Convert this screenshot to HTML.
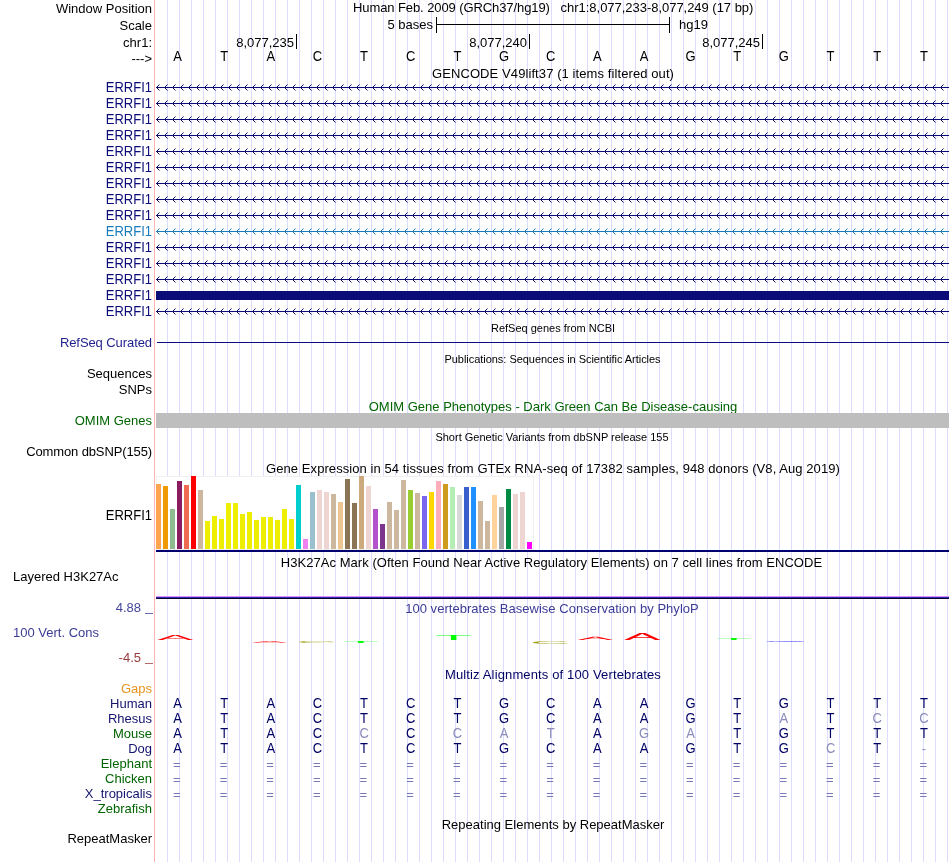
<!DOCTYPE html>
<html><head><meta charset="utf-8"><title>UCSC Genome Browser</title>
<style>
html,body{margin:0;padding:0;background:#fff;}
body{width:950px;height:862px;position:relative;overflow:hidden;font-family:"Liberation Sans",sans-serif;font-size:13px;color:#000;}
.t{position:absolute;white-space:pre;line-height:15px;height:15px;}
.r{text-align:right;left:0;width:152px;}
.c{text-align:center;left:156px;width:794px;}
.s{font-size:11px;}
.b{position:absolute;}
.l{position:absolute;width:16px;margin-left:-8px;text-align:center;line-height:15px;height:15px;}
.u{transform:scaleY(1.07);transform-origin:50% 12px;}
svg{position:absolute;left:0;top:0;}
#w{position:absolute;left:0;top:0;width:950px;height:862px;will-change:transform;}
</style></head><body><div id="w">
<svg width="950" height="862" viewBox="0 0 950 862" shape-rendering="crispEdges"><path d="M167.5 0V862M179.5 0V862M191.5 0V862M203.5 0V862M215.5 0V862M227.5 0V862M239.5 0V862M251.5 0V862M263.5 0V862M275.5 0V862M287.5 0V862M299.5 0V862M311.5 0V862M323.5 0V862M335.5 0V862M347.5 0V862M359.5 0V862M371.5 0V862M383.5 0V862M395.5 0V862M407.5 0V862M419.5 0V862M431.5 0V862M443.5 0V862M455.5 0V862M467.5 0V862M479.5 0V862M491.5 0V862M503.5 0V862M515.5 0V862M527.5 0V862M539.5 0V862M551.5 0V862M563.5 0V862M575.5 0V862M587.5 0V862M599.5 0V862M611.5 0V862M623.5 0V862M635.5 0V862M647.5 0V862M659.5 0V862M671.5 0V862M683.5 0V862M695.5 0V862M707.5 0V862M719.5 0V862M731.5 0V862M743.5 0V862M755.5 0V862M767.5 0V862M779.5 0V862M791.5 0V862M803.5 0V862M815.5 0V862M827.5 0V862M839.5 0V862M851.5 0V862M863.5 0V862M875.5 0V862M887.5 0V862M899.5 0V862M911.5 0V862M923.5 0V862M935.5 0V862M947.5 0V862" stroke="#dcdcff" stroke-width="1" fill="none"/><path d="M154.5 0V862" stroke="#ffb4b4" stroke-width="1" fill="none"/></svg>
<div class="t r" style="top:1px;">Window Position</div>
<div class="t r" style="top:18px;">Scale</div>
<div class="t r" style="top:35px;">chr1:</div>
<div class="t r" style="top:51px;">---&gt;</div>
<div class="t " style="top:0px;left:353px;letter-spacing:-0.09px;">Human Feb. 2009 (GRCh37/hg19)</div>
<div class="t " style="top:0px;left:560.6px;letter-spacing:-0.03px;">chr1:8,077,233-8,077,249 (17 bp)</div>
<div class="b" style="left:436px;top:17px;width:1px;height:16px;background:#000"></div>
<div class="b" style="left:669px;top:17px;width:1px;height:16px;background:#000"></div>
<div class="b" style="left:436px;top:24px;width:234px;height:1px;background:#000"></div>
<div class="t " style="top:17px;right:517px;">5 bases</div>
<div class="t " style="top:17px;left:679px;">hg19</div>
<div class="b" style="left:296px;top:34px;width:1px;height:15px;background:#000"></div>
<div class="t " style="top:35px;right:656px;">8,077,235</div>
<div class="b" style="left:529px;top:34px;width:1px;height:15px;background:#000"></div>
<div class="t " style="top:35px;right:423px;">8,077,240</div>
<div class="b" style="left:762px;top:34px;width:1px;height:15px;background:#000"></div>
<div class="t " style="top:35px;right:190px;">8,077,245</div>
<div class="l u" style="left:177.5px;top:49px">A</div>
<div class="l u" style="left:224.2px;top:49px">T</div>
<div class="l u" style="left:270.8px;top:49px">A</div>
<div class="l u" style="left:317.5px;top:49px">C</div>
<div class="l u" style="left:364.1px;top:49px">T</div>
<div class="l u" style="left:410.8px;top:49px">C</div>
<div class="l u" style="left:457.4px;top:49px">T</div>
<div class="l u" style="left:504.1px;top:49px">G</div>
<div class="l u" style="left:550.7px;top:49px">C</div>
<div class="l u" style="left:597.3px;top:49px">A</div>
<div class="l u" style="left:644.0px;top:49px">A</div>
<div class="l u" style="left:690.6px;top:49px">G</div>
<div class="l u" style="left:737.3px;top:49px">T</div>
<div class="l u" style="left:783.9px;top:49px">G</div>
<div class="l u" style="left:830.6px;top:49px">T</div>
<div class="l u" style="left:877.2px;top:49px">T</div>
<div class="l u" style="left:923.9px;top:49px">T</div>
<div class="t c" style="top:66px;letter-spacing:0.09px;">GENCODE V49lift37 (1 items filtered out)</div>
<div class="t r u" style="top:80px;color:#0c0c78;">ERRFI1</div>
<div class="t r u" style="top:96px;color:#0c0c78;">ERRFI1</div>
<div class="t r u" style="top:112px;color:#0c0c78;">ERRFI1</div>
<div class="t r u" style="top:128px;color:#0c0c78;">ERRFI1</div>
<div class="t r u" style="top:144px;color:#0c0c78;">ERRFI1</div>
<div class="t r u" style="top:160px;color:#0c0c78;">ERRFI1</div>
<div class="t r u" style="top:176px;color:#0c0c78;">ERRFI1</div>
<div class="t r u" style="top:192px;color:#0c0c78;">ERRFI1</div>
<div class="t r u" style="top:208px;color:#0c0c78;">ERRFI1</div>
<div class="t r u" style="top:224px;color:#187cbc;">ERRFI1</div>
<div class="t r u" style="top:240px;color:#0c0c78;">ERRFI1</div>
<div class="t r u" style="top:256px;color:#0c0c78;">ERRFI1</div>
<div class="t r u" style="top:272px;color:#0c0c78;">ERRFI1</div>
<div class="t r u" style="top:288px;color:#0c0c78;">ERRFI1</div>
<div class="b" style="left:156px;top:291px;width:793px;height:9px;background:#0c0c78"></div>
<div class="t r u" style="top:304px;color:#0c0c78;">ERRFI1</div>
<svg width="950" height="862" viewBox="0 0 950 862"><path d="M156 87.5H949M159.5 84.5L156.5 87.5L159.5 90.5M167.5 84.5L164.5 87.5L167.5 90.5M175.5 84.5L172.5 87.5L175.5 90.5M183.5 84.5L180.5 87.5L183.5 90.5M191.5 84.5L188.5 87.5L191.5 90.5M199.5 84.5L196.5 87.5L199.5 90.5M207.5 84.5L204.5 87.5L207.5 90.5M215.5 84.5L212.5 87.5L215.5 90.5M223.5 84.5L220.5 87.5L223.5 90.5M231.5 84.5L228.5 87.5L231.5 90.5M239.5 84.5L236.5 87.5L239.5 90.5M247.5 84.5L244.5 87.5L247.5 90.5M255.5 84.5L252.5 87.5L255.5 90.5M263.5 84.5L260.5 87.5L263.5 90.5M271.5 84.5L268.5 87.5L271.5 90.5M279.5 84.5L276.5 87.5L279.5 90.5M287.5 84.5L284.5 87.5L287.5 90.5M295.5 84.5L292.5 87.5L295.5 90.5M303.5 84.5L300.5 87.5L303.5 90.5M311.5 84.5L308.5 87.5L311.5 90.5M319.5 84.5L316.5 87.5L319.5 90.5M327.5 84.5L324.5 87.5L327.5 90.5M335.5 84.5L332.5 87.5L335.5 90.5M343.5 84.5L340.5 87.5L343.5 90.5M351.5 84.5L348.5 87.5L351.5 90.5M359.5 84.5L356.5 87.5L359.5 90.5M367.5 84.5L364.5 87.5L367.5 90.5M375.5 84.5L372.5 87.5L375.5 90.5M383.5 84.5L380.5 87.5L383.5 90.5M391.5 84.5L388.5 87.5L391.5 90.5M399.5 84.5L396.5 87.5L399.5 90.5M407.5 84.5L404.5 87.5L407.5 90.5M415.5 84.5L412.5 87.5L415.5 90.5M423.5 84.5L420.5 87.5L423.5 90.5M431.5 84.5L428.5 87.5L431.5 90.5M439.5 84.5L436.5 87.5L439.5 90.5M447.5 84.5L444.5 87.5L447.5 90.5M455.5 84.5L452.5 87.5L455.5 90.5M463.5 84.5L460.5 87.5L463.5 90.5M471.5 84.5L468.5 87.5L471.5 90.5M479.5 84.5L476.5 87.5L479.5 90.5M487.5 84.5L484.5 87.5L487.5 90.5M495.5 84.5L492.5 87.5L495.5 90.5M503.5 84.5L500.5 87.5L503.5 90.5M511.5 84.5L508.5 87.5L511.5 90.5M519.5 84.5L516.5 87.5L519.5 90.5M527.5 84.5L524.5 87.5L527.5 90.5M535.5 84.5L532.5 87.5L535.5 90.5M543.5 84.5L540.5 87.5L543.5 90.5M551.5 84.5L548.5 87.5L551.5 90.5M559.5 84.5L556.5 87.5L559.5 90.5M567.5 84.5L564.5 87.5L567.5 90.5M575.5 84.5L572.5 87.5L575.5 90.5M583.5 84.5L580.5 87.5L583.5 90.5M591.5 84.5L588.5 87.5L591.5 90.5M599.5 84.5L596.5 87.5L599.5 90.5M607.5 84.5L604.5 87.5L607.5 90.5M615.5 84.5L612.5 87.5L615.5 90.5M623.5 84.5L620.5 87.5L623.5 90.5M631.5 84.5L628.5 87.5L631.5 90.5M639.5 84.5L636.5 87.5L639.5 90.5M647.5 84.5L644.5 87.5L647.5 90.5M655.5 84.5L652.5 87.5L655.5 90.5M663.5 84.5L660.5 87.5L663.5 90.5M671.5 84.5L668.5 87.5L671.5 90.5M679.5 84.5L676.5 87.5L679.5 90.5M687.5 84.5L684.5 87.5L687.5 90.5M695.5 84.5L692.5 87.5L695.5 90.5M703.5 84.5L700.5 87.5L703.5 90.5M711.5 84.5L708.5 87.5L711.5 90.5M719.5 84.5L716.5 87.5L719.5 90.5M727.5 84.5L724.5 87.5L727.5 90.5M735.5 84.5L732.5 87.5L735.5 90.5M743.5 84.5L740.5 87.5L743.5 90.5M751.5 84.5L748.5 87.5L751.5 90.5M759.5 84.5L756.5 87.5L759.5 90.5M767.5 84.5L764.5 87.5L767.5 90.5M775.5 84.5L772.5 87.5L775.5 90.5M783.5 84.5L780.5 87.5L783.5 90.5M791.5 84.5L788.5 87.5L791.5 90.5M799.5 84.5L796.5 87.5L799.5 90.5M807.5 84.5L804.5 87.5L807.5 90.5M815.5 84.5L812.5 87.5L815.5 90.5M823.5 84.5L820.5 87.5L823.5 90.5M831.5 84.5L828.5 87.5L831.5 90.5M839.5 84.5L836.5 87.5L839.5 90.5M847.5 84.5L844.5 87.5L847.5 90.5M855.5 84.5L852.5 87.5L855.5 90.5M863.5 84.5L860.5 87.5L863.5 90.5M871.5 84.5L868.5 87.5L871.5 90.5M879.5 84.5L876.5 87.5L879.5 90.5M887.5 84.5L884.5 87.5L887.5 90.5M895.5 84.5L892.5 87.5L895.5 90.5M903.5 84.5L900.5 87.5L903.5 90.5M911.5 84.5L908.5 87.5L911.5 90.5M919.5 84.5L916.5 87.5L919.5 90.5M927.5 84.5L924.5 87.5L927.5 90.5M935.5 84.5L932.5 87.5L935.5 90.5M943.5 84.5L940.5 87.5L943.5 90.5" stroke="#0c0c78" stroke-width="1" fill="none"/><path d="M156 103.5H949M159.5 100.5L156.5 103.5L159.5 106.5M167.5 100.5L164.5 103.5L167.5 106.5M175.5 100.5L172.5 103.5L175.5 106.5M183.5 100.5L180.5 103.5L183.5 106.5M191.5 100.5L188.5 103.5L191.5 106.5M199.5 100.5L196.5 103.5L199.5 106.5M207.5 100.5L204.5 103.5L207.5 106.5M215.5 100.5L212.5 103.5L215.5 106.5M223.5 100.5L220.5 103.5L223.5 106.5M231.5 100.5L228.5 103.5L231.5 106.5M239.5 100.5L236.5 103.5L239.5 106.5M247.5 100.5L244.5 103.5L247.5 106.5M255.5 100.5L252.5 103.5L255.5 106.5M263.5 100.5L260.5 103.5L263.5 106.5M271.5 100.5L268.5 103.5L271.5 106.5M279.5 100.5L276.5 103.5L279.5 106.5M287.5 100.5L284.5 103.5L287.5 106.5M295.5 100.5L292.5 103.5L295.5 106.5M303.5 100.5L300.5 103.5L303.5 106.5M311.5 100.5L308.5 103.5L311.5 106.5M319.5 100.5L316.5 103.5L319.5 106.5M327.5 100.5L324.5 103.5L327.5 106.5M335.5 100.5L332.5 103.5L335.5 106.5M343.5 100.5L340.5 103.5L343.5 106.5M351.5 100.5L348.5 103.5L351.5 106.5M359.5 100.5L356.5 103.5L359.5 106.5M367.5 100.5L364.5 103.5L367.5 106.5M375.5 100.5L372.5 103.5L375.5 106.5M383.5 100.5L380.5 103.5L383.5 106.5M391.5 100.5L388.5 103.5L391.5 106.5M399.5 100.5L396.5 103.5L399.5 106.5M407.5 100.5L404.5 103.5L407.5 106.5M415.5 100.5L412.5 103.5L415.5 106.5M423.5 100.5L420.5 103.5L423.5 106.5M431.5 100.5L428.5 103.5L431.5 106.5M439.5 100.5L436.5 103.5L439.5 106.5M447.5 100.5L444.5 103.5L447.5 106.5M455.5 100.5L452.5 103.5L455.5 106.5M463.5 100.5L460.5 103.5L463.5 106.5M471.5 100.5L468.5 103.5L471.5 106.5M479.5 100.5L476.5 103.5L479.5 106.5M487.5 100.5L484.5 103.5L487.5 106.5M495.5 100.5L492.5 103.5L495.5 106.5M503.5 100.5L500.5 103.5L503.5 106.5M511.5 100.5L508.5 103.5L511.5 106.5M519.5 100.5L516.5 103.5L519.5 106.5M527.5 100.5L524.5 103.5L527.5 106.5M535.5 100.5L532.5 103.5L535.5 106.5M543.5 100.5L540.5 103.5L543.5 106.5M551.5 100.5L548.5 103.5L551.5 106.5M559.5 100.5L556.5 103.5L559.5 106.5M567.5 100.5L564.5 103.5L567.5 106.5M575.5 100.5L572.5 103.5L575.5 106.5M583.5 100.5L580.5 103.5L583.5 106.5M591.5 100.5L588.5 103.5L591.5 106.5M599.5 100.5L596.5 103.5L599.5 106.5M607.5 100.5L604.5 103.5L607.5 106.5M615.5 100.5L612.5 103.5L615.5 106.5M623.5 100.5L620.5 103.5L623.5 106.5M631.5 100.5L628.5 103.5L631.5 106.5M639.5 100.5L636.5 103.5L639.5 106.5M647.5 100.5L644.5 103.5L647.5 106.5M655.5 100.5L652.5 103.5L655.5 106.5M663.5 100.5L660.5 103.5L663.5 106.5M671.5 100.5L668.5 103.5L671.5 106.5M679.5 100.5L676.5 103.5L679.5 106.5M687.5 100.5L684.5 103.5L687.5 106.5M695.5 100.5L692.5 103.5L695.5 106.5M703.5 100.5L700.5 103.5L703.5 106.5M711.5 100.5L708.5 103.5L711.5 106.5M719.5 100.5L716.5 103.5L719.5 106.5M727.5 100.5L724.5 103.5L727.5 106.5M735.5 100.5L732.5 103.5L735.5 106.5M743.5 100.5L740.5 103.5L743.5 106.5M751.5 100.5L748.5 103.5L751.5 106.5M759.5 100.5L756.5 103.5L759.5 106.5M767.5 100.5L764.5 103.5L767.5 106.5M775.5 100.5L772.5 103.5L775.5 106.5M783.5 100.5L780.5 103.5L783.5 106.5M791.5 100.5L788.5 103.5L791.5 106.5M799.5 100.5L796.5 103.5L799.5 106.5M807.5 100.5L804.5 103.5L807.5 106.5M815.5 100.5L812.5 103.5L815.5 106.5M823.5 100.5L820.5 103.5L823.5 106.5M831.5 100.5L828.5 103.5L831.5 106.5M839.5 100.5L836.5 103.5L839.5 106.5M847.5 100.5L844.5 103.5L847.5 106.5M855.5 100.5L852.5 103.5L855.5 106.5M863.5 100.5L860.5 103.5L863.5 106.5M871.5 100.5L868.5 103.5L871.5 106.5M879.5 100.5L876.5 103.5L879.5 106.5M887.5 100.5L884.5 103.5L887.5 106.5M895.5 100.5L892.5 103.5L895.5 106.5M903.5 100.5L900.5 103.5L903.5 106.5M911.5 100.5L908.5 103.5L911.5 106.5M919.5 100.5L916.5 103.5L919.5 106.5M927.5 100.5L924.5 103.5L927.5 106.5M935.5 100.5L932.5 103.5L935.5 106.5M943.5 100.5L940.5 103.5L943.5 106.5" stroke="#0c0c78" stroke-width="1" fill="none"/><path d="M156 119.5H949M159.5 116.5L156.5 119.5L159.5 122.5M167.5 116.5L164.5 119.5L167.5 122.5M175.5 116.5L172.5 119.5L175.5 122.5M183.5 116.5L180.5 119.5L183.5 122.5M191.5 116.5L188.5 119.5L191.5 122.5M199.5 116.5L196.5 119.5L199.5 122.5M207.5 116.5L204.5 119.5L207.5 122.5M215.5 116.5L212.5 119.5L215.5 122.5M223.5 116.5L220.5 119.5L223.5 122.5M231.5 116.5L228.5 119.5L231.5 122.5M239.5 116.5L236.5 119.5L239.5 122.5M247.5 116.5L244.5 119.5L247.5 122.5M255.5 116.5L252.5 119.5L255.5 122.5M263.5 116.5L260.5 119.5L263.5 122.5M271.5 116.5L268.5 119.5L271.5 122.5M279.5 116.5L276.5 119.5L279.5 122.5M287.5 116.5L284.5 119.5L287.5 122.5M295.5 116.5L292.5 119.5L295.5 122.5M303.5 116.5L300.5 119.5L303.5 122.5M311.5 116.5L308.5 119.5L311.5 122.5M319.5 116.5L316.5 119.5L319.5 122.5M327.5 116.5L324.5 119.5L327.5 122.5M335.5 116.5L332.5 119.5L335.5 122.5M343.5 116.5L340.5 119.5L343.5 122.5M351.5 116.5L348.5 119.5L351.5 122.5M359.5 116.5L356.5 119.5L359.5 122.5M367.5 116.5L364.5 119.5L367.5 122.5M375.5 116.5L372.5 119.5L375.5 122.5M383.5 116.5L380.5 119.5L383.5 122.5M391.5 116.5L388.5 119.5L391.5 122.5M399.5 116.5L396.5 119.5L399.5 122.5M407.5 116.5L404.5 119.5L407.5 122.5M415.5 116.5L412.5 119.5L415.5 122.5M423.5 116.5L420.5 119.5L423.5 122.5M431.5 116.5L428.5 119.5L431.5 122.5M439.5 116.5L436.5 119.5L439.5 122.5M447.5 116.5L444.5 119.5L447.5 122.5M455.5 116.5L452.5 119.5L455.5 122.5M463.5 116.5L460.5 119.5L463.5 122.5M471.5 116.5L468.5 119.5L471.5 122.5M479.5 116.5L476.5 119.5L479.5 122.5M487.5 116.5L484.5 119.5L487.5 122.5M495.5 116.5L492.5 119.5L495.5 122.5M503.5 116.5L500.5 119.5L503.5 122.5M511.5 116.5L508.5 119.5L511.5 122.5M519.5 116.5L516.5 119.5L519.5 122.5M527.5 116.5L524.5 119.5L527.5 122.5M535.5 116.5L532.5 119.5L535.5 122.5M543.5 116.5L540.5 119.5L543.5 122.5M551.5 116.5L548.5 119.5L551.5 122.5M559.5 116.5L556.5 119.5L559.5 122.5M567.5 116.5L564.5 119.5L567.5 122.5M575.5 116.5L572.5 119.5L575.5 122.5M583.5 116.5L580.5 119.5L583.5 122.5M591.5 116.5L588.5 119.5L591.5 122.5M599.5 116.5L596.5 119.5L599.5 122.5M607.5 116.5L604.5 119.5L607.5 122.5M615.5 116.5L612.5 119.5L615.5 122.5M623.5 116.5L620.5 119.5L623.5 122.5M631.5 116.5L628.5 119.5L631.5 122.5M639.5 116.5L636.5 119.5L639.5 122.5M647.5 116.5L644.5 119.5L647.5 122.5M655.5 116.5L652.5 119.5L655.5 122.5M663.5 116.5L660.5 119.5L663.5 122.5M671.5 116.5L668.5 119.5L671.5 122.5M679.5 116.5L676.5 119.5L679.5 122.5M687.5 116.5L684.5 119.5L687.5 122.5M695.5 116.5L692.5 119.5L695.5 122.5M703.5 116.5L700.5 119.5L703.5 122.5M711.5 116.5L708.5 119.5L711.5 122.5M719.5 116.5L716.5 119.5L719.5 122.5M727.5 116.5L724.5 119.5L727.5 122.5M735.5 116.5L732.5 119.5L735.5 122.5M743.5 116.5L740.5 119.5L743.5 122.5M751.5 116.5L748.5 119.5L751.5 122.5M759.5 116.5L756.5 119.5L759.5 122.5M767.5 116.5L764.5 119.5L767.5 122.5M775.5 116.5L772.5 119.5L775.5 122.5M783.5 116.5L780.5 119.5L783.5 122.5M791.5 116.5L788.5 119.5L791.5 122.5M799.5 116.5L796.5 119.5L799.5 122.5M807.5 116.5L804.5 119.5L807.5 122.5M815.5 116.5L812.5 119.5L815.5 122.5M823.5 116.5L820.5 119.5L823.5 122.5M831.5 116.5L828.5 119.5L831.5 122.5M839.5 116.5L836.5 119.5L839.5 122.5M847.5 116.5L844.5 119.5L847.5 122.5M855.5 116.5L852.5 119.5L855.5 122.5M863.5 116.5L860.5 119.5L863.5 122.5M871.5 116.5L868.5 119.5L871.5 122.5M879.5 116.5L876.5 119.5L879.5 122.5M887.5 116.5L884.5 119.5L887.5 122.5M895.5 116.5L892.5 119.5L895.5 122.5M903.5 116.5L900.5 119.5L903.5 122.5M911.5 116.5L908.5 119.5L911.5 122.5M919.5 116.5L916.5 119.5L919.5 122.5M927.5 116.5L924.5 119.5L927.5 122.5M935.5 116.5L932.5 119.5L935.5 122.5M943.5 116.5L940.5 119.5L943.5 122.5" stroke="#0c0c78" stroke-width="1" fill="none"/><path d="M156 135.5H949M159.5 132.5L156.5 135.5L159.5 138.5M167.5 132.5L164.5 135.5L167.5 138.5M175.5 132.5L172.5 135.5L175.5 138.5M183.5 132.5L180.5 135.5L183.5 138.5M191.5 132.5L188.5 135.5L191.5 138.5M199.5 132.5L196.5 135.5L199.5 138.5M207.5 132.5L204.5 135.5L207.5 138.5M215.5 132.5L212.5 135.5L215.5 138.5M223.5 132.5L220.5 135.5L223.5 138.5M231.5 132.5L228.5 135.5L231.5 138.5M239.5 132.5L236.5 135.5L239.5 138.5M247.5 132.5L244.5 135.5L247.5 138.5M255.5 132.5L252.5 135.5L255.5 138.5M263.5 132.5L260.5 135.5L263.5 138.5M271.5 132.5L268.5 135.5L271.5 138.5M279.5 132.5L276.5 135.5L279.5 138.5M287.5 132.5L284.5 135.5L287.5 138.5M295.5 132.5L292.5 135.5L295.5 138.5M303.5 132.5L300.5 135.5L303.5 138.5M311.5 132.5L308.5 135.5L311.5 138.5M319.5 132.5L316.5 135.5L319.5 138.5M327.5 132.5L324.5 135.5L327.5 138.5M335.5 132.5L332.5 135.5L335.5 138.5M343.5 132.5L340.5 135.5L343.5 138.5M351.5 132.5L348.5 135.5L351.5 138.5M359.5 132.5L356.5 135.5L359.5 138.5M367.5 132.5L364.5 135.5L367.5 138.5M375.5 132.5L372.5 135.5L375.5 138.5M383.5 132.5L380.5 135.5L383.5 138.5M391.5 132.5L388.5 135.5L391.5 138.5M399.5 132.5L396.5 135.5L399.5 138.5M407.5 132.5L404.5 135.5L407.5 138.5M415.5 132.5L412.5 135.5L415.5 138.5M423.5 132.5L420.5 135.5L423.5 138.5M431.5 132.5L428.5 135.5L431.5 138.5M439.5 132.5L436.5 135.5L439.5 138.5M447.5 132.5L444.5 135.5L447.5 138.5M455.5 132.5L452.5 135.5L455.5 138.5M463.5 132.5L460.5 135.5L463.5 138.5M471.5 132.5L468.5 135.5L471.5 138.5M479.5 132.5L476.5 135.5L479.5 138.5M487.5 132.5L484.5 135.5L487.5 138.5M495.5 132.5L492.5 135.5L495.5 138.5M503.5 132.5L500.5 135.5L503.5 138.5M511.5 132.5L508.5 135.5L511.5 138.5M519.5 132.5L516.5 135.5L519.5 138.5M527.5 132.5L524.5 135.5L527.5 138.5M535.5 132.5L532.5 135.5L535.5 138.5M543.5 132.5L540.5 135.5L543.5 138.5M551.5 132.5L548.5 135.5L551.5 138.5M559.5 132.5L556.5 135.5L559.5 138.5M567.5 132.5L564.5 135.5L567.5 138.5M575.5 132.5L572.5 135.5L575.5 138.5M583.5 132.5L580.5 135.5L583.5 138.5M591.5 132.5L588.5 135.5L591.5 138.5M599.5 132.5L596.5 135.5L599.5 138.5M607.5 132.5L604.5 135.5L607.5 138.5M615.5 132.5L612.5 135.5L615.5 138.5M623.5 132.5L620.5 135.5L623.5 138.5M631.5 132.5L628.5 135.5L631.5 138.5M639.5 132.5L636.5 135.5L639.5 138.5M647.5 132.5L644.5 135.5L647.5 138.5M655.5 132.5L652.5 135.5L655.5 138.5M663.5 132.5L660.5 135.5L663.5 138.5M671.5 132.5L668.5 135.5L671.5 138.5M679.5 132.5L676.5 135.5L679.5 138.5M687.5 132.5L684.5 135.5L687.5 138.5M695.5 132.5L692.5 135.5L695.5 138.5M703.5 132.5L700.5 135.5L703.5 138.5M711.5 132.5L708.5 135.5L711.5 138.5M719.5 132.5L716.5 135.5L719.5 138.5M727.5 132.5L724.5 135.5L727.5 138.5M735.5 132.5L732.5 135.5L735.5 138.5M743.5 132.5L740.5 135.5L743.5 138.5M751.5 132.5L748.5 135.5L751.5 138.5M759.5 132.5L756.5 135.5L759.5 138.5M767.5 132.5L764.5 135.5L767.5 138.5M775.5 132.5L772.5 135.5L775.5 138.5M783.5 132.5L780.5 135.5L783.5 138.5M791.5 132.5L788.5 135.5L791.5 138.5M799.5 132.5L796.5 135.5L799.5 138.5M807.5 132.5L804.5 135.5L807.5 138.5M815.5 132.5L812.5 135.5L815.5 138.5M823.5 132.5L820.5 135.5L823.5 138.5M831.5 132.5L828.5 135.5L831.5 138.5M839.5 132.5L836.5 135.5L839.5 138.5M847.5 132.5L844.5 135.5L847.5 138.5M855.5 132.5L852.5 135.5L855.5 138.5M863.5 132.5L860.5 135.5L863.5 138.5M871.5 132.5L868.5 135.5L871.5 138.5M879.5 132.5L876.5 135.5L879.5 138.5M887.5 132.5L884.5 135.5L887.5 138.5M895.5 132.5L892.5 135.5L895.5 138.5M903.5 132.5L900.5 135.5L903.5 138.5M911.5 132.5L908.5 135.5L911.5 138.5M919.5 132.5L916.5 135.5L919.5 138.5M927.5 132.5L924.5 135.5L927.5 138.5M935.5 132.5L932.5 135.5L935.5 138.5M943.5 132.5L940.5 135.5L943.5 138.5" stroke="#0c0c78" stroke-width="1" fill="none"/><path d="M156 151.5H949M159.5 148.5L156.5 151.5L159.5 154.5M167.5 148.5L164.5 151.5L167.5 154.5M175.5 148.5L172.5 151.5L175.5 154.5M183.5 148.5L180.5 151.5L183.5 154.5M191.5 148.5L188.5 151.5L191.5 154.5M199.5 148.5L196.5 151.5L199.5 154.5M207.5 148.5L204.5 151.5L207.5 154.5M215.5 148.5L212.5 151.5L215.5 154.5M223.5 148.5L220.5 151.5L223.5 154.5M231.5 148.5L228.5 151.5L231.5 154.5M239.5 148.5L236.5 151.5L239.5 154.5M247.5 148.5L244.5 151.5L247.5 154.5M255.5 148.5L252.5 151.5L255.5 154.5M263.5 148.5L260.5 151.5L263.5 154.5M271.5 148.5L268.5 151.5L271.5 154.5M279.5 148.5L276.5 151.5L279.5 154.5M287.5 148.5L284.5 151.5L287.5 154.5M295.5 148.5L292.5 151.5L295.5 154.5M303.5 148.5L300.5 151.5L303.5 154.5M311.5 148.5L308.5 151.5L311.5 154.5M319.5 148.5L316.5 151.5L319.5 154.5M327.5 148.5L324.5 151.5L327.5 154.5M335.5 148.5L332.5 151.5L335.5 154.5M343.5 148.5L340.5 151.5L343.5 154.5M351.5 148.5L348.5 151.5L351.5 154.5M359.5 148.5L356.5 151.5L359.5 154.5M367.5 148.5L364.5 151.5L367.5 154.5M375.5 148.5L372.5 151.5L375.5 154.5M383.5 148.5L380.5 151.5L383.5 154.5M391.5 148.5L388.5 151.5L391.5 154.5M399.5 148.5L396.5 151.5L399.5 154.5M407.5 148.5L404.5 151.5L407.5 154.5M415.5 148.5L412.5 151.5L415.5 154.5M423.5 148.5L420.5 151.5L423.5 154.5M431.5 148.5L428.5 151.5L431.5 154.5M439.5 148.5L436.5 151.5L439.5 154.5M447.5 148.5L444.5 151.5L447.5 154.5M455.5 148.5L452.5 151.5L455.5 154.5M463.5 148.5L460.5 151.5L463.5 154.5M471.5 148.5L468.5 151.5L471.5 154.5M479.5 148.5L476.5 151.5L479.5 154.5M487.5 148.5L484.5 151.5L487.5 154.5M495.5 148.5L492.5 151.5L495.5 154.5M503.5 148.5L500.5 151.5L503.5 154.5M511.5 148.5L508.5 151.5L511.5 154.5M519.5 148.5L516.5 151.5L519.5 154.5M527.5 148.5L524.5 151.5L527.5 154.5M535.5 148.5L532.5 151.5L535.5 154.5M543.5 148.5L540.5 151.5L543.5 154.5M551.5 148.5L548.5 151.5L551.5 154.5M559.5 148.5L556.5 151.5L559.5 154.5M567.5 148.5L564.5 151.5L567.5 154.5M575.5 148.5L572.5 151.5L575.5 154.5M583.5 148.5L580.5 151.5L583.5 154.5M591.5 148.5L588.5 151.5L591.5 154.5M599.5 148.5L596.5 151.5L599.5 154.5M607.5 148.5L604.5 151.5L607.5 154.5M615.5 148.5L612.5 151.5L615.5 154.5M623.5 148.5L620.5 151.5L623.5 154.5M631.5 148.5L628.5 151.5L631.5 154.5M639.5 148.5L636.5 151.5L639.5 154.5M647.5 148.5L644.5 151.5L647.5 154.5M655.5 148.5L652.5 151.5L655.5 154.5M663.5 148.5L660.5 151.5L663.5 154.5M671.5 148.5L668.5 151.5L671.5 154.5M679.5 148.5L676.5 151.5L679.5 154.5M687.5 148.5L684.5 151.5L687.5 154.5M695.5 148.5L692.5 151.5L695.5 154.5M703.5 148.5L700.5 151.5L703.5 154.5M711.5 148.5L708.5 151.5L711.5 154.5M719.5 148.5L716.5 151.5L719.5 154.5M727.5 148.5L724.5 151.5L727.5 154.5M735.5 148.5L732.5 151.5L735.5 154.5M743.5 148.5L740.5 151.5L743.5 154.5M751.5 148.5L748.5 151.5L751.5 154.5M759.5 148.5L756.5 151.5L759.5 154.5M767.5 148.5L764.5 151.5L767.5 154.5M775.5 148.5L772.5 151.5L775.5 154.5M783.5 148.5L780.5 151.5L783.5 154.5M791.5 148.5L788.5 151.5L791.5 154.5M799.5 148.5L796.5 151.5L799.5 154.5M807.5 148.5L804.5 151.5L807.5 154.5M815.5 148.5L812.5 151.5L815.5 154.5M823.5 148.5L820.5 151.5L823.5 154.5M831.5 148.5L828.5 151.5L831.5 154.5M839.5 148.5L836.5 151.5L839.5 154.5M847.5 148.5L844.5 151.5L847.5 154.5M855.5 148.5L852.5 151.5L855.5 154.5M863.5 148.5L860.5 151.5L863.5 154.5M871.5 148.5L868.5 151.5L871.5 154.5M879.5 148.5L876.5 151.5L879.5 154.5M887.5 148.5L884.5 151.5L887.5 154.5M895.5 148.5L892.5 151.5L895.5 154.5M903.5 148.5L900.5 151.5L903.5 154.5M911.5 148.5L908.5 151.5L911.5 154.5M919.5 148.5L916.5 151.5L919.5 154.5M927.5 148.5L924.5 151.5L927.5 154.5M935.5 148.5L932.5 151.5L935.5 154.5M943.5 148.5L940.5 151.5L943.5 154.5" stroke="#0c0c78" stroke-width="1" fill="none"/><path d="M156 167.5H949M159.5 164.5L156.5 167.5L159.5 170.5M167.5 164.5L164.5 167.5L167.5 170.5M175.5 164.5L172.5 167.5L175.5 170.5M183.5 164.5L180.5 167.5L183.5 170.5M191.5 164.5L188.5 167.5L191.5 170.5M199.5 164.5L196.5 167.5L199.5 170.5M207.5 164.5L204.5 167.5L207.5 170.5M215.5 164.5L212.5 167.5L215.5 170.5M223.5 164.5L220.5 167.5L223.5 170.5M231.5 164.5L228.5 167.5L231.5 170.5M239.5 164.5L236.5 167.5L239.5 170.5M247.5 164.5L244.5 167.5L247.5 170.5M255.5 164.5L252.5 167.5L255.5 170.5M263.5 164.5L260.5 167.5L263.5 170.5M271.5 164.5L268.5 167.5L271.5 170.5M279.5 164.5L276.5 167.5L279.5 170.5M287.5 164.5L284.5 167.5L287.5 170.5M295.5 164.5L292.5 167.5L295.5 170.5M303.5 164.5L300.5 167.5L303.5 170.5M311.5 164.5L308.5 167.5L311.5 170.5M319.5 164.5L316.5 167.5L319.5 170.5M327.5 164.5L324.5 167.5L327.5 170.5M335.5 164.5L332.5 167.5L335.5 170.5M343.5 164.5L340.5 167.5L343.5 170.5M351.5 164.5L348.5 167.5L351.5 170.5M359.5 164.5L356.5 167.5L359.5 170.5M367.5 164.5L364.5 167.5L367.5 170.5M375.5 164.5L372.5 167.5L375.5 170.5M383.5 164.5L380.5 167.5L383.5 170.5M391.5 164.5L388.5 167.5L391.5 170.5M399.5 164.5L396.5 167.5L399.5 170.5M407.5 164.5L404.5 167.5L407.5 170.5M415.5 164.5L412.5 167.5L415.5 170.5M423.5 164.5L420.5 167.5L423.5 170.5M431.5 164.5L428.5 167.5L431.5 170.5M439.5 164.5L436.5 167.5L439.5 170.5M447.5 164.5L444.5 167.5L447.5 170.5M455.5 164.5L452.5 167.5L455.5 170.5M463.5 164.5L460.5 167.5L463.5 170.5M471.5 164.5L468.5 167.5L471.5 170.5M479.5 164.5L476.5 167.5L479.5 170.5M487.5 164.5L484.5 167.5L487.5 170.5M495.5 164.5L492.5 167.5L495.5 170.5M503.5 164.5L500.5 167.5L503.5 170.5M511.5 164.5L508.5 167.5L511.5 170.5M519.5 164.5L516.5 167.5L519.5 170.5M527.5 164.5L524.5 167.5L527.5 170.5M535.5 164.5L532.5 167.5L535.5 170.5M543.5 164.5L540.5 167.5L543.5 170.5M551.5 164.5L548.5 167.5L551.5 170.5M559.5 164.5L556.5 167.5L559.5 170.5M567.5 164.5L564.5 167.5L567.5 170.5M575.5 164.5L572.5 167.5L575.5 170.5M583.5 164.5L580.5 167.5L583.5 170.5M591.5 164.5L588.5 167.5L591.5 170.5M599.5 164.5L596.5 167.5L599.5 170.5M607.5 164.5L604.5 167.5L607.5 170.5M615.5 164.5L612.5 167.5L615.5 170.5M623.5 164.5L620.5 167.5L623.5 170.5M631.5 164.5L628.5 167.5L631.5 170.5M639.5 164.5L636.5 167.5L639.5 170.5M647.5 164.5L644.5 167.5L647.5 170.5M655.5 164.5L652.5 167.5L655.5 170.5M663.5 164.5L660.5 167.5L663.5 170.5M671.5 164.5L668.5 167.5L671.5 170.5M679.5 164.5L676.5 167.5L679.5 170.5M687.5 164.5L684.5 167.5L687.5 170.5M695.5 164.5L692.5 167.5L695.5 170.5M703.5 164.5L700.5 167.5L703.5 170.5M711.5 164.5L708.5 167.5L711.5 170.5M719.5 164.5L716.5 167.5L719.5 170.5M727.5 164.5L724.5 167.5L727.5 170.5M735.5 164.5L732.5 167.5L735.5 170.5M743.5 164.5L740.5 167.5L743.5 170.5M751.5 164.5L748.5 167.5L751.5 170.5M759.5 164.5L756.5 167.5L759.5 170.5M767.5 164.5L764.5 167.5L767.5 170.5M775.5 164.5L772.5 167.5L775.5 170.5M783.5 164.5L780.5 167.5L783.5 170.5M791.5 164.5L788.5 167.5L791.5 170.5M799.5 164.5L796.5 167.5L799.5 170.5M807.5 164.5L804.5 167.5L807.5 170.5M815.5 164.5L812.5 167.5L815.5 170.5M823.5 164.5L820.5 167.5L823.5 170.5M831.5 164.5L828.5 167.5L831.5 170.5M839.5 164.5L836.5 167.5L839.5 170.5M847.5 164.5L844.5 167.5L847.5 170.5M855.5 164.5L852.5 167.5L855.5 170.5M863.5 164.5L860.5 167.5L863.5 170.5M871.5 164.5L868.5 167.5L871.5 170.5M879.5 164.5L876.5 167.5L879.5 170.5M887.5 164.5L884.5 167.5L887.5 170.5M895.5 164.5L892.5 167.5L895.5 170.5M903.5 164.5L900.5 167.5L903.5 170.5M911.5 164.5L908.5 167.5L911.5 170.5M919.5 164.5L916.5 167.5L919.5 170.5M927.5 164.5L924.5 167.5L927.5 170.5M935.5 164.5L932.5 167.5L935.5 170.5M943.5 164.5L940.5 167.5L943.5 170.5" stroke="#0c0c78" stroke-width="1" fill="none"/><path d="M156 183.5H949M159.5 180.5L156.5 183.5L159.5 186.5M167.5 180.5L164.5 183.5L167.5 186.5M175.5 180.5L172.5 183.5L175.5 186.5M183.5 180.5L180.5 183.5L183.5 186.5M191.5 180.5L188.5 183.5L191.5 186.5M199.5 180.5L196.5 183.5L199.5 186.5M207.5 180.5L204.5 183.5L207.5 186.5M215.5 180.5L212.5 183.5L215.5 186.5M223.5 180.5L220.5 183.5L223.5 186.5M231.5 180.5L228.5 183.5L231.5 186.5M239.5 180.5L236.5 183.5L239.5 186.5M247.5 180.5L244.5 183.5L247.5 186.5M255.5 180.5L252.5 183.5L255.5 186.5M263.5 180.5L260.5 183.5L263.5 186.5M271.5 180.5L268.5 183.5L271.5 186.5M279.5 180.5L276.5 183.5L279.5 186.5M287.5 180.5L284.5 183.5L287.5 186.5M295.5 180.5L292.5 183.5L295.5 186.5M303.5 180.5L300.5 183.5L303.5 186.5M311.5 180.5L308.5 183.5L311.5 186.5M319.5 180.5L316.5 183.5L319.5 186.5M327.5 180.5L324.5 183.5L327.5 186.5M335.5 180.5L332.5 183.5L335.5 186.5M343.5 180.5L340.5 183.5L343.5 186.5M351.5 180.5L348.5 183.5L351.5 186.5M359.5 180.5L356.5 183.5L359.5 186.5M367.5 180.5L364.5 183.5L367.5 186.5M375.5 180.5L372.5 183.5L375.5 186.5M383.5 180.5L380.5 183.5L383.5 186.5M391.5 180.5L388.5 183.5L391.5 186.5M399.5 180.5L396.5 183.5L399.5 186.5M407.5 180.5L404.5 183.5L407.5 186.5M415.5 180.5L412.5 183.5L415.5 186.5M423.5 180.5L420.5 183.5L423.5 186.5M431.5 180.5L428.5 183.5L431.5 186.5M439.5 180.5L436.5 183.5L439.5 186.5M447.5 180.5L444.5 183.5L447.5 186.5M455.5 180.5L452.5 183.5L455.5 186.5M463.5 180.5L460.5 183.5L463.5 186.5M471.5 180.5L468.5 183.5L471.5 186.5M479.5 180.5L476.5 183.5L479.5 186.5M487.5 180.5L484.5 183.5L487.5 186.5M495.5 180.5L492.5 183.5L495.5 186.5M503.5 180.5L500.5 183.5L503.5 186.5M511.5 180.5L508.5 183.5L511.5 186.5M519.5 180.5L516.5 183.5L519.5 186.5M527.5 180.5L524.5 183.5L527.5 186.5M535.5 180.5L532.5 183.5L535.5 186.5M543.5 180.5L540.5 183.5L543.5 186.5M551.5 180.5L548.5 183.5L551.5 186.5M559.5 180.5L556.5 183.5L559.5 186.5M567.5 180.5L564.5 183.5L567.5 186.5M575.5 180.5L572.5 183.5L575.5 186.5M583.5 180.5L580.5 183.5L583.5 186.5M591.5 180.5L588.5 183.5L591.5 186.5M599.5 180.5L596.5 183.5L599.5 186.5M607.5 180.5L604.5 183.5L607.5 186.5M615.5 180.5L612.5 183.5L615.5 186.5M623.5 180.5L620.5 183.5L623.5 186.5M631.5 180.5L628.5 183.5L631.5 186.5M639.5 180.5L636.5 183.5L639.5 186.5M647.5 180.5L644.5 183.5L647.5 186.5M655.5 180.5L652.5 183.5L655.5 186.5M663.5 180.5L660.5 183.5L663.5 186.5M671.5 180.5L668.5 183.5L671.5 186.5M679.5 180.5L676.5 183.5L679.5 186.5M687.5 180.5L684.5 183.5L687.5 186.5M695.5 180.5L692.5 183.5L695.5 186.5M703.5 180.5L700.5 183.5L703.5 186.5M711.5 180.5L708.5 183.5L711.5 186.5M719.5 180.5L716.5 183.5L719.5 186.5M727.5 180.5L724.5 183.5L727.5 186.5M735.5 180.5L732.5 183.5L735.5 186.5M743.5 180.5L740.5 183.5L743.5 186.5M751.5 180.5L748.5 183.5L751.5 186.5M759.5 180.5L756.5 183.5L759.5 186.5M767.5 180.5L764.5 183.5L767.5 186.5M775.5 180.5L772.5 183.5L775.5 186.5M783.5 180.5L780.5 183.5L783.5 186.5M791.5 180.5L788.5 183.5L791.5 186.5M799.5 180.5L796.5 183.5L799.5 186.5M807.5 180.5L804.5 183.5L807.5 186.5M815.5 180.5L812.5 183.5L815.5 186.5M823.5 180.5L820.5 183.5L823.5 186.5M831.5 180.5L828.5 183.5L831.5 186.5M839.5 180.5L836.5 183.5L839.5 186.5M847.5 180.5L844.5 183.5L847.5 186.5M855.5 180.5L852.5 183.5L855.5 186.5M863.5 180.5L860.5 183.5L863.5 186.5M871.5 180.5L868.5 183.5L871.5 186.5M879.5 180.5L876.5 183.5L879.5 186.5M887.5 180.5L884.5 183.5L887.5 186.5M895.5 180.5L892.5 183.5L895.5 186.5M903.5 180.5L900.5 183.5L903.5 186.5M911.5 180.5L908.5 183.5L911.5 186.5M919.5 180.5L916.5 183.5L919.5 186.5M927.5 180.5L924.5 183.5L927.5 186.5M935.5 180.5L932.5 183.5L935.5 186.5M943.5 180.5L940.5 183.5L943.5 186.5" stroke="#0c0c78" stroke-width="1" fill="none"/><path d="M156 199.5H949M159.5 196.5L156.5 199.5L159.5 202.5M167.5 196.5L164.5 199.5L167.5 202.5M175.5 196.5L172.5 199.5L175.5 202.5M183.5 196.5L180.5 199.5L183.5 202.5M191.5 196.5L188.5 199.5L191.5 202.5M199.5 196.5L196.5 199.5L199.5 202.5M207.5 196.5L204.5 199.5L207.5 202.5M215.5 196.5L212.5 199.5L215.5 202.5M223.5 196.5L220.5 199.5L223.5 202.5M231.5 196.5L228.5 199.5L231.5 202.5M239.5 196.5L236.5 199.5L239.5 202.5M247.5 196.5L244.5 199.5L247.5 202.5M255.5 196.5L252.5 199.5L255.5 202.5M263.5 196.5L260.5 199.5L263.5 202.5M271.5 196.5L268.5 199.5L271.5 202.5M279.5 196.5L276.5 199.5L279.5 202.5M287.5 196.5L284.5 199.5L287.5 202.5M295.5 196.5L292.5 199.5L295.5 202.5M303.5 196.5L300.5 199.5L303.5 202.5M311.5 196.5L308.5 199.5L311.5 202.5M319.5 196.5L316.5 199.5L319.5 202.5M327.5 196.5L324.5 199.5L327.5 202.5M335.5 196.5L332.5 199.5L335.5 202.5M343.5 196.5L340.5 199.5L343.5 202.5M351.5 196.5L348.5 199.5L351.5 202.5M359.5 196.5L356.5 199.5L359.5 202.5M367.5 196.5L364.5 199.5L367.5 202.5M375.5 196.5L372.5 199.5L375.5 202.5M383.5 196.5L380.5 199.5L383.5 202.5M391.5 196.5L388.5 199.5L391.5 202.5M399.5 196.5L396.5 199.5L399.5 202.5M407.5 196.5L404.5 199.5L407.5 202.5M415.5 196.5L412.5 199.5L415.5 202.5M423.5 196.5L420.5 199.5L423.5 202.5M431.5 196.5L428.5 199.5L431.5 202.5M439.5 196.5L436.5 199.5L439.5 202.5M447.5 196.5L444.5 199.5L447.5 202.5M455.5 196.5L452.5 199.5L455.5 202.5M463.5 196.5L460.5 199.5L463.5 202.5M471.5 196.5L468.5 199.5L471.5 202.5M479.5 196.5L476.5 199.5L479.5 202.5M487.5 196.5L484.5 199.5L487.5 202.5M495.5 196.5L492.5 199.5L495.5 202.5M503.5 196.5L500.5 199.5L503.5 202.5M511.5 196.5L508.5 199.5L511.5 202.5M519.5 196.5L516.5 199.5L519.5 202.5M527.5 196.5L524.5 199.5L527.5 202.5M535.5 196.5L532.5 199.5L535.5 202.5M543.5 196.5L540.5 199.5L543.5 202.5M551.5 196.5L548.5 199.5L551.5 202.5M559.5 196.5L556.5 199.5L559.5 202.5M567.5 196.5L564.5 199.5L567.5 202.5M575.5 196.5L572.5 199.5L575.5 202.5M583.5 196.5L580.5 199.5L583.5 202.5M591.5 196.5L588.5 199.5L591.5 202.5M599.5 196.5L596.5 199.5L599.5 202.5M607.5 196.5L604.5 199.5L607.5 202.5M615.5 196.5L612.5 199.5L615.5 202.5M623.5 196.5L620.5 199.5L623.5 202.5M631.5 196.5L628.5 199.5L631.5 202.5M639.5 196.5L636.5 199.5L639.5 202.5M647.5 196.5L644.5 199.5L647.5 202.5M655.5 196.5L652.5 199.5L655.5 202.5M663.5 196.5L660.5 199.5L663.5 202.5M671.5 196.5L668.5 199.5L671.5 202.5M679.5 196.5L676.5 199.5L679.5 202.5M687.5 196.5L684.5 199.5L687.5 202.5M695.5 196.5L692.5 199.5L695.5 202.5M703.5 196.5L700.5 199.5L703.5 202.5M711.5 196.5L708.5 199.5L711.5 202.5M719.5 196.5L716.5 199.5L719.5 202.5M727.5 196.5L724.5 199.5L727.5 202.5M735.5 196.5L732.5 199.5L735.5 202.5M743.5 196.5L740.5 199.5L743.5 202.5M751.5 196.5L748.5 199.5L751.5 202.5M759.5 196.5L756.5 199.5L759.5 202.5M767.5 196.5L764.5 199.5L767.5 202.5M775.5 196.5L772.5 199.5L775.5 202.5M783.5 196.5L780.5 199.5L783.5 202.5M791.5 196.5L788.5 199.5L791.5 202.5M799.5 196.5L796.5 199.5L799.5 202.5M807.5 196.5L804.5 199.5L807.5 202.5M815.5 196.5L812.5 199.5L815.5 202.5M823.5 196.5L820.5 199.5L823.5 202.5M831.5 196.5L828.5 199.5L831.5 202.5M839.5 196.5L836.5 199.5L839.5 202.5M847.5 196.5L844.5 199.5L847.5 202.5M855.5 196.5L852.5 199.5L855.5 202.5M863.5 196.5L860.5 199.5L863.5 202.5M871.5 196.5L868.5 199.5L871.5 202.5M879.5 196.5L876.5 199.5L879.5 202.5M887.5 196.5L884.5 199.5L887.5 202.5M895.5 196.5L892.5 199.5L895.5 202.5M903.5 196.5L900.5 199.5L903.5 202.5M911.5 196.5L908.5 199.5L911.5 202.5M919.5 196.5L916.5 199.5L919.5 202.5M927.5 196.5L924.5 199.5L927.5 202.5M935.5 196.5L932.5 199.5L935.5 202.5M943.5 196.5L940.5 199.5L943.5 202.5" stroke="#0c0c78" stroke-width="1" fill="none"/><path d="M156 215.5H949M159.5 212.5L156.5 215.5L159.5 218.5M167.5 212.5L164.5 215.5L167.5 218.5M175.5 212.5L172.5 215.5L175.5 218.5M183.5 212.5L180.5 215.5L183.5 218.5M191.5 212.5L188.5 215.5L191.5 218.5M199.5 212.5L196.5 215.5L199.5 218.5M207.5 212.5L204.5 215.5L207.5 218.5M215.5 212.5L212.5 215.5L215.5 218.5M223.5 212.5L220.5 215.5L223.5 218.5M231.5 212.5L228.5 215.5L231.5 218.5M239.5 212.5L236.5 215.5L239.5 218.5M247.5 212.5L244.5 215.5L247.5 218.5M255.5 212.5L252.5 215.5L255.5 218.5M263.5 212.5L260.5 215.5L263.5 218.5M271.5 212.5L268.5 215.5L271.5 218.5M279.5 212.5L276.5 215.5L279.5 218.5M287.5 212.5L284.5 215.5L287.5 218.5M295.5 212.5L292.5 215.5L295.5 218.5M303.5 212.5L300.5 215.5L303.5 218.5M311.5 212.5L308.5 215.5L311.5 218.5M319.5 212.5L316.5 215.5L319.5 218.5M327.5 212.5L324.5 215.5L327.5 218.5M335.5 212.5L332.5 215.5L335.5 218.5M343.5 212.5L340.5 215.5L343.5 218.5M351.5 212.5L348.5 215.5L351.5 218.5M359.5 212.5L356.5 215.5L359.5 218.5M367.5 212.5L364.5 215.5L367.5 218.5M375.5 212.5L372.5 215.5L375.5 218.5M383.5 212.5L380.5 215.5L383.5 218.5M391.5 212.5L388.5 215.5L391.5 218.5M399.5 212.5L396.5 215.5L399.5 218.5M407.5 212.5L404.5 215.5L407.5 218.5M415.5 212.5L412.5 215.5L415.5 218.5M423.5 212.5L420.5 215.5L423.5 218.5M431.5 212.5L428.5 215.5L431.5 218.5M439.5 212.5L436.5 215.5L439.5 218.5M447.5 212.5L444.5 215.5L447.5 218.5M455.5 212.5L452.5 215.5L455.5 218.5M463.5 212.5L460.5 215.5L463.5 218.5M471.5 212.5L468.5 215.5L471.5 218.5M479.5 212.5L476.5 215.5L479.5 218.5M487.5 212.5L484.5 215.5L487.5 218.5M495.5 212.5L492.5 215.5L495.5 218.5M503.5 212.5L500.5 215.5L503.5 218.5M511.5 212.5L508.5 215.5L511.5 218.5M519.5 212.5L516.5 215.5L519.5 218.5M527.5 212.5L524.5 215.5L527.5 218.5M535.5 212.5L532.5 215.5L535.5 218.5M543.5 212.5L540.5 215.5L543.5 218.5M551.5 212.5L548.5 215.5L551.5 218.5M559.5 212.5L556.5 215.5L559.5 218.5M567.5 212.5L564.5 215.5L567.5 218.5M575.5 212.5L572.5 215.5L575.5 218.5M583.5 212.5L580.5 215.5L583.5 218.5M591.5 212.5L588.5 215.5L591.5 218.5M599.5 212.5L596.5 215.5L599.5 218.5M607.5 212.5L604.5 215.5L607.5 218.5M615.5 212.5L612.5 215.5L615.5 218.5M623.5 212.5L620.5 215.5L623.5 218.5M631.5 212.5L628.5 215.5L631.5 218.5M639.5 212.5L636.5 215.5L639.5 218.5M647.5 212.5L644.5 215.5L647.5 218.5M655.5 212.5L652.5 215.5L655.5 218.5M663.5 212.5L660.5 215.5L663.5 218.5M671.5 212.5L668.5 215.5L671.5 218.5M679.5 212.5L676.5 215.5L679.5 218.5M687.5 212.5L684.5 215.5L687.5 218.5M695.5 212.5L692.5 215.5L695.5 218.5M703.5 212.5L700.5 215.5L703.5 218.5M711.5 212.5L708.5 215.5L711.5 218.5M719.5 212.5L716.5 215.5L719.5 218.5M727.5 212.5L724.5 215.5L727.5 218.5M735.5 212.5L732.5 215.5L735.5 218.5M743.5 212.5L740.5 215.5L743.5 218.5M751.5 212.5L748.5 215.5L751.5 218.5M759.5 212.5L756.5 215.5L759.5 218.5M767.5 212.5L764.5 215.5L767.5 218.5M775.5 212.5L772.5 215.5L775.5 218.5M783.5 212.5L780.5 215.5L783.5 218.5M791.5 212.5L788.5 215.5L791.5 218.5M799.5 212.5L796.5 215.5L799.5 218.5M807.5 212.5L804.5 215.5L807.5 218.5M815.5 212.5L812.5 215.5L815.5 218.5M823.5 212.5L820.5 215.5L823.5 218.5M831.5 212.5L828.5 215.5L831.5 218.5M839.5 212.5L836.5 215.5L839.5 218.5M847.5 212.5L844.5 215.5L847.5 218.5M855.5 212.5L852.5 215.5L855.5 218.5M863.5 212.5L860.5 215.5L863.5 218.5M871.5 212.5L868.5 215.5L871.5 218.5M879.5 212.5L876.5 215.5L879.5 218.5M887.5 212.5L884.5 215.5L887.5 218.5M895.5 212.5L892.5 215.5L895.5 218.5M903.5 212.5L900.5 215.5L903.5 218.5M911.5 212.5L908.5 215.5L911.5 218.5M919.5 212.5L916.5 215.5L919.5 218.5M927.5 212.5L924.5 215.5L927.5 218.5M935.5 212.5L932.5 215.5L935.5 218.5M943.5 212.5L940.5 215.5L943.5 218.5" stroke="#0c0c78" stroke-width="1" fill="none"/><path d="M156 231.5H949M159.5 228.5L156.5 231.5L159.5 234.5M167.5 228.5L164.5 231.5L167.5 234.5M175.5 228.5L172.5 231.5L175.5 234.5M183.5 228.5L180.5 231.5L183.5 234.5M191.5 228.5L188.5 231.5L191.5 234.5M199.5 228.5L196.5 231.5L199.5 234.5M207.5 228.5L204.5 231.5L207.5 234.5M215.5 228.5L212.5 231.5L215.5 234.5M223.5 228.5L220.5 231.5L223.5 234.5M231.5 228.5L228.5 231.5L231.5 234.5M239.5 228.5L236.5 231.5L239.5 234.5M247.5 228.5L244.5 231.5L247.5 234.5M255.5 228.5L252.5 231.5L255.5 234.5M263.5 228.5L260.5 231.5L263.5 234.5M271.5 228.5L268.5 231.5L271.5 234.5M279.5 228.5L276.5 231.5L279.5 234.5M287.5 228.5L284.5 231.5L287.5 234.5M295.5 228.5L292.5 231.5L295.5 234.5M303.5 228.5L300.5 231.5L303.5 234.5M311.5 228.5L308.5 231.5L311.5 234.5M319.5 228.5L316.5 231.5L319.5 234.5M327.5 228.5L324.5 231.5L327.5 234.5M335.5 228.5L332.5 231.5L335.5 234.5M343.5 228.5L340.5 231.5L343.5 234.5M351.5 228.5L348.5 231.5L351.5 234.5M359.5 228.5L356.5 231.5L359.5 234.5M367.5 228.5L364.5 231.5L367.5 234.5M375.5 228.5L372.5 231.5L375.5 234.5M383.5 228.5L380.5 231.5L383.5 234.5M391.5 228.5L388.5 231.5L391.5 234.5M399.5 228.5L396.5 231.5L399.5 234.5M407.5 228.5L404.5 231.5L407.5 234.5M415.5 228.5L412.5 231.5L415.5 234.5M423.5 228.5L420.5 231.5L423.5 234.5M431.5 228.5L428.5 231.5L431.5 234.5M439.5 228.5L436.5 231.5L439.5 234.5M447.5 228.5L444.5 231.5L447.5 234.5M455.5 228.5L452.5 231.5L455.5 234.5M463.5 228.5L460.5 231.5L463.5 234.5M471.5 228.5L468.5 231.5L471.5 234.5M479.5 228.5L476.5 231.5L479.5 234.5M487.5 228.5L484.5 231.5L487.5 234.5M495.5 228.5L492.5 231.5L495.5 234.5M503.5 228.5L500.5 231.5L503.5 234.5M511.5 228.5L508.5 231.5L511.5 234.5M519.5 228.5L516.5 231.5L519.5 234.5M527.5 228.5L524.5 231.5L527.5 234.5M535.5 228.5L532.5 231.5L535.5 234.5M543.5 228.5L540.5 231.5L543.5 234.5M551.5 228.5L548.5 231.5L551.5 234.5M559.5 228.5L556.5 231.5L559.5 234.5M567.5 228.5L564.5 231.5L567.5 234.5M575.5 228.5L572.5 231.5L575.5 234.5M583.5 228.5L580.5 231.5L583.5 234.5M591.5 228.5L588.5 231.5L591.5 234.5M599.5 228.5L596.5 231.5L599.5 234.5M607.5 228.5L604.5 231.5L607.5 234.5M615.5 228.5L612.5 231.5L615.5 234.5M623.5 228.5L620.5 231.5L623.5 234.5M631.5 228.5L628.5 231.5L631.5 234.5M639.5 228.5L636.5 231.5L639.5 234.5M647.5 228.5L644.5 231.5L647.5 234.5M655.5 228.5L652.5 231.5L655.5 234.5M663.5 228.5L660.5 231.5L663.5 234.5M671.5 228.5L668.5 231.5L671.5 234.5M679.5 228.5L676.5 231.5L679.5 234.5M687.5 228.5L684.5 231.5L687.5 234.5M695.5 228.5L692.5 231.5L695.5 234.5M703.5 228.5L700.5 231.5L703.5 234.5M711.5 228.5L708.5 231.5L711.5 234.5M719.5 228.5L716.5 231.5L719.5 234.5M727.5 228.5L724.5 231.5L727.5 234.5M735.5 228.5L732.5 231.5L735.5 234.5M743.5 228.5L740.5 231.5L743.5 234.5M751.5 228.5L748.5 231.5L751.5 234.5M759.5 228.5L756.5 231.5L759.5 234.5M767.5 228.5L764.5 231.5L767.5 234.5M775.5 228.5L772.5 231.5L775.5 234.5M783.5 228.5L780.5 231.5L783.5 234.5M791.5 228.5L788.5 231.5L791.5 234.5M799.5 228.5L796.5 231.5L799.5 234.5M807.5 228.5L804.5 231.5L807.5 234.5M815.5 228.5L812.5 231.5L815.5 234.5M823.5 228.5L820.5 231.5L823.5 234.5M831.5 228.5L828.5 231.5L831.5 234.5M839.5 228.5L836.5 231.5L839.5 234.5M847.5 228.5L844.5 231.5L847.5 234.5M855.5 228.5L852.5 231.5L855.5 234.5M863.5 228.5L860.5 231.5L863.5 234.5M871.5 228.5L868.5 231.5L871.5 234.5M879.5 228.5L876.5 231.5L879.5 234.5M887.5 228.5L884.5 231.5L887.5 234.5M895.5 228.5L892.5 231.5L895.5 234.5M903.5 228.5L900.5 231.5L903.5 234.5M911.5 228.5L908.5 231.5L911.5 234.5M919.5 228.5L916.5 231.5L919.5 234.5M927.5 228.5L924.5 231.5L927.5 234.5M935.5 228.5L932.5 231.5L935.5 234.5M943.5 228.5L940.5 231.5L943.5 234.5" stroke="#187cbc" stroke-width="1" fill="none"/><path d="M156 247.5H949M159.5 244.5L156.5 247.5L159.5 250.5M167.5 244.5L164.5 247.5L167.5 250.5M175.5 244.5L172.5 247.5L175.5 250.5M183.5 244.5L180.5 247.5L183.5 250.5M191.5 244.5L188.5 247.5L191.5 250.5M199.5 244.5L196.5 247.5L199.5 250.5M207.5 244.5L204.5 247.5L207.5 250.5M215.5 244.5L212.5 247.5L215.5 250.5M223.5 244.5L220.5 247.5L223.5 250.5M231.5 244.5L228.5 247.5L231.5 250.5M239.5 244.5L236.5 247.5L239.5 250.5M247.5 244.5L244.5 247.5L247.5 250.5M255.5 244.5L252.5 247.5L255.5 250.5M263.5 244.5L260.5 247.5L263.5 250.5M271.5 244.5L268.5 247.5L271.5 250.5M279.5 244.5L276.5 247.5L279.5 250.5M287.5 244.5L284.5 247.5L287.5 250.5M295.5 244.5L292.5 247.5L295.5 250.5M303.5 244.5L300.5 247.5L303.5 250.5M311.5 244.5L308.5 247.5L311.5 250.5M319.5 244.5L316.5 247.5L319.5 250.5M327.5 244.5L324.5 247.5L327.5 250.5M335.5 244.5L332.5 247.5L335.5 250.5M343.5 244.5L340.5 247.5L343.5 250.5M351.5 244.5L348.5 247.5L351.5 250.5M359.5 244.5L356.5 247.5L359.5 250.5M367.5 244.5L364.5 247.5L367.5 250.5M375.5 244.5L372.5 247.5L375.5 250.5M383.5 244.5L380.5 247.5L383.5 250.5M391.5 244.5L388.5 247.5L391.5 250.5M399.5 244.5L396.5 247.5L399.5 250.5M407.5 244.5L404.5 247.5L407.5 250.5M415.5 244.5L412.5 247.5L415.5 250.5M423.5 244.5L420.5 247.5L423.5 250.5M431.5 244.5L428.5 247.5L431.5 250.5M439.5 244.5L436.5 247.5L439.5 250.5M447.5 244.5L444.5 247.5L447.5 250.5M455.5 244.5L452.5 247.5L455.5 250.5M463.5 244.5L460.5 247.5L463.5 250.5M471.5 244.5L468.5 247.5L471.5 250.5M479.5 244.5L476.5 247.5L479.5 250.5M487.5 244.5L484.5 247.5L487.5 250.5M495.5 244.5L492.5 247.5L495.5 250.5M503.5 244.5L500.5 247.5L503.5 250.5M511.5 244.5L508.5 247.5L511.5 250.5M519.5 244.5L516.5 247.5L519.5 250.5M527.5 244.5L524.5 247.5L527.5 250.5M535.5 244.5L532.5 247.5L535.5 250.5M543.5 244.5L540.5 247.5L543.5 250.5M551.5 244.5L548.5 247.5L551.5 250.5M559.5 244.5L556.5 247.5L559.5 250.5M567.5 244.5L564.5 247.5L567.5 250.5M575.5 244.5L572.5 247.5L575.5 250.5M583.5 244.5L580.5 247.5L583.5 250.5M591.5 244.5L588.5 247.5L591.5 250.5M599.5 244.5L596.5 247.5L599.5 250.5M607.5 244.5L604.5 247.5L607.5 250.5M615.5 244.5L612.5 247.5L615.5 250.5M623.5 244.5L620.5 247.5L623.5 250.5M631.5 244.5L628.5 247.5L631.5 250.5M639.5 244.5L636.5 247.5L639.5 250.5M647.5 244.5L644.5 247.5L647.5 250.5M655.5 244.5L652.5 247.5L655.5 250.5M663.5 244.5L660.5 247.5L663.5 250.5M671.5 244.5L668.5 247.5L671.5 250.5M679.5 244.5L676.5 247.5L679.5 250.5M687.5 244.5L684.5 247.5L687.5 250.5M695.5 244.5L692.5 247.5L695.5 250.5M703.5 244.5L700.5 247.5L703.5 250.5M711.5 244.5L708.5 247.5L711.5 250.5M719.5 244.5L716.5 247.5L719.5 250.5M727.5 244.5L724.5 247.5L727.5 250.5M735.5 244.5L732.5 247.5L735.5 250.5M743.5 244.5L740.5 247.5L743.5 250.5M751.5 244.5L748.5 247.5L751.5 250.5M759.5 244.5L756.5 247.5L759.5 250.5M767.5 244.5L764.5 247.5L767.5 250.5M775.5 244.5L772.5 247.5L775.5 250.5M783.5 244.5L780.5 247.5L783.5 250.5M791.5 244.5L788.5 247.5L791.5 250.5M799.5 244.5L796.5 247.5L799.5 250.5M807.5 244.5L804.5 247.5L807.5 250.5M815.5 244.5L812.5 247.5L815.5 250.5M823.5 244.5L820.5 247.5L823.5 250.5M831.5 244.5L828.5 247.5L831.5 250.5M839.5 244.5L836.5 247.5L839.5 250.5M847.5 244.5L844.5 247.5L847.5 250.5M855.5 244.5L852.5 247.5L855.5 250.5M863.5 244.5L860.5 247.5L863.5 250.5M871.5 244.5L868.5 247.5L871.5 250.5M879.5 244.5L876.5 247.5L879.5 250.5M887.5 244.5L884.5 247.5L887.5 250.5M895.5 244.5L892.5 247.5L895.5 250.5M903.5 244.5L900.5 247.5L903.5 250.5M911.5 244.5L908.5 247.5L911.5 250.5M919.5 244.5L916.5 247.5L919.5 250.5M927.5 244.5L924.5 247.5L927.5 250.5M935.5 244.5L932.5 247.5L935.5 250.5M943.5 244.5L940.5 247.5L943.5 250.5" stroke="#0c0c78" stroke-width="1" fill="none"/><path d="M156 263.5H949M159.5 260.5L156.5 263.5L159.5 266.5M167.5 260.5L164.5 263.5L167.5 266.5M175.5 260.5L172.5 263.5L175.5 266.5M183.5 260.5L180.5 263.5L183.5 266.5M191.5 260.5L188.5 263.5L191.5 266.5M199.5 260.5L196.5 263.5L199.5 266.5M207.5 260.5L204.5 263.5L207.5 266.5M215.5 260.5L212.5 263.5L215.5 266.5M223.5 260.5L220.5 263.5L223.5 266.5M231.5 260.5L228.5 263.5L231.5 266.5M239.5 260.5L236.5 263.5L239.5 266.5M247.5 260.5L244.5 263.5L247.5 266.5M255.5 260.5L252.5 263.5L255.5 266.5M263.5 260.5L260.5 263.5L263.5 266.5M271.5 260.5L268.5 263.5L271.5 266.5M279.5 260.5L276.5 263.5L279.5 266.5M287.5 260.5L284.5 263.5L287.5 266.5M295.5 260.5L292.5 263.5L295.5 266.5M303.5 260.5L300.5 263.5L303.5 266.5M311.5 260.5L308.5 263.5L311.5 266.5M319.5 260.5L316.5 263.5L319.5 266.5M327.5 260.5L324.5 263.5L327.5 266.5M335.5 260.5L332.5 263.5L335.5 266.5M343.5 260.5L340.5 263.5L343.5 266.5M351.5 260.5L348.5 263.5L351.5 266.5M359.5 260.5L356.5 263.5L359.5 266.5M367.5 260.5L364.5 263.5L367.5 266.5M375.5 260.5L372.5 263.5L375.5 266.5M383.5 260.5L380.5 263.5L383.5 266.5M391.5 260.5L388.5 263.5L391.5 266.5M399.5 260.5L396.5 263.5L399.5 266.5M407.5 260.5L404.5 263.5L407.5 266.5M415.5 260.5L412.5 263.5L415.5 266.5M423.5 260.5L420.5 263.5L423.5 266.5M431.5 260.5L428.5 263.5L431.5 266.5M439.5 260.5L436.5 263.5L439.5 266.5M447.5 260.5L444.5 263.5L447.5 266.5M455.5 260.5L452.5 263.5L455.5 266.5M463.5 260.5L460.5 263.5L463.5 266.5M471.5 260.5L468.5 263.5L471.5 266.5M479.5 260.5L476.5 263.5L479.5 266.5M487.5 260.5L484.5 263.5L487.5 266.5M495.5 260.5L492.5 263.5L495.5 266.5M503.5 260.5L500.5 263.5L503.5 266.5M511.5 260.5L508.5 263.5L511.5 266.5M519.5 260.5L516.5 263.5L519.5 266.5M527.5 260.5L524.5 263.5L527.5 266.5M535.5 260.5L532.5 263.5L535.5 266.5M543.5 260.5L540.5 263.5L543.5 266.5M551.5 260.5L548.5 263.5L551.5 266.5M559.5 260.5L556.5 263.5L559.5 266.5M567.5 260.5L564.5 263.5L567.5 266.5M575.5 260.5L572.5 263.5L575.5 266.5M583.5 260.5L580.5 263.5L583.5 266.5M591.5 260.5L588.5 263.5L591.5 266.5M599.5 260.5L596.5 263.5L599.5 266.5M607.5 260.5L604.5 263.5L607.5 266.5M615.5 260.5L612.5 263.5L615.5 266.5M623.5 260.5L620.5 263.5L623.5 266.5M631.5 260.5L628.5 263.5L631.5 266.5M639.5 260.5L636.5 263.5L639.5 266.5M647.5 260.5L644.5 263.5L647.5 266.5M655.5 260.5L652.5 263.5L655.5 266.5M663.5 260.5L660.5 263.5L663.5 266.5M671.5 260.5L668.5 263.5L671.5 266.5M679.5 260.5L676.5 263.5L679.5 266.5M687.5 260.5L684.5 263.5L687.5 266.5M695.5 260.5L692.5 263.5L695.5 266.5M703.5 260.5L700.5 263.5L703.5 266.5M711.5 260.5L708.5 263.5L711.5 266.5M719.5 260.5L716.5 263.5L719.5 266.5M727.5 260.5L724.5 263.5L727.5 266.5M735.5 260.5L732.5 263.5L735.5 266.5M743.5 260.5L740.5 263.5L743.5 266.5M751.5 260.5L748.5 263.5L751.5 266.5M759.5 260.5L756.5 263.5L759.5 266.5M767.5 260.5L764.5 263.5L767.5 266.5M775.5 260.5L772.5 263.5L775.5 266.5M783.5 260.5L780.5 263.5L783.5 266.5M791.5 260.5L788.5 263.5L791.5 266.5M799.5 260.5L796.5 263.5L799.5 266.5M807.5 260.5L804.5 263.5L807.5 266.5M815.5 260.5L812.5 263.5L815.5 266.5M823.5 260.5L820.5 263.5L823.5 266.5M831.5 260.5L828.5 263.5L831.5 266.5M839.5 260.5L836.5 263.5L839.5 266.5M847.5 260.5L844.5 263.5L847.5 266.5M855.5 260.5L852.5 263.5L855.5 266.5M863.5 260.5L860.5 263.5L863.5 266.5M871.5 260.5L868.5 263.5L871.5 266.5M879.5 260.5L876.5 263.5L879.5 266.5M887.5 260.5L884.5 263.5L887.5 266.5M895.5 260.5L892.5 263.5L895.5 266.5M903.5 260.5L900.5 263.5L903.5 266.5M911.5 260.5L908.5 263.5L911.5 266.5M919.5 260.5L916.5 263.5L919.5 266.5M927.5 260.5L924.5 263.5L927.5 266.5M935.5 260.5L932.5 263.5L935.5 266.5M943.5 260.5L940.5 263.5L943.5 266.5" stroke="#0c0c78" stroke-width="1" fill="none"/><path d="M156 279.5H949M159.5 276.5L156.5 279.5L159.5 282.5M167.5 276.5L164.5 279.5L167.5 282.5M175.5 276.5L172.5 279.5L175.5 282.5M183.5 276.5L180.5 279.5L183.5 282.5M191.5 276.5L188.5 279.5L191.5 282.5M199.5 276.5L196.5 279.5L199.5 282.5M207.5 276.5L204.5 279.5L207.5 282.5M215.5 276.5L212.5 279.5L215.5 282.5M223.5 276.5L220.5 279.5L223.5 282.5M231.5 276.5L228.5 279.5L231.5 282.5M239.5 276.5L236.5 279.5L239.5 282.5M247.5 276.5L244.5 279.5L247.5 282.5M255.5 276.5L252.5 279.5L255.5 282.5M263.5 276.5L260.5 279.5L263.5 282.5M271.5 276.5L268.5 279.5L271.5 282.5M279.5 276.5L276.5 279.5L279.5 282.5M287.5 276.5L284.5 279.5L287.5 282.5M295.5 276.5L292.5 279.5L295.5 282.5M303.5 276.5L300.5 279.5L303.5 282.5M311.5 276.5L308.5 279.5L311.5 282.5M319.5 276.5L316.5 279.5L319.5 282.5M327.5 276.5L324.5 279.5L327.5 282.5M335.5 276.5L332.5 279.5L335.5 282.5M343.5 276.5L340.5 279.5L343.5 282.5M351.5 276.5L348.5 279.5L351.5 282.5M359.5 276.5L356.5 279.5L359.5 282.5M367.5 276.5L364.5 279.5L367.5 282.5M375.5 276.5L372.5 279.5L375.5 282.5M383.5 276.5L380.5 279.5L383.5 282.5M391.5 276.5L388.5 279.5L391.5 282.5M399.5 276.5L396.5 279.5L399.5 282.5M407.5 276.5L404.5 279.5L407.5 282.5M415.5 276.5L412.5 279.5L415.5 282.5M423.5 276.5L420.5 279.5L423.5 282.5M431.5 276.5L428.5 279.5L431.5 282.5M439.5 276.5L436.5 279.5L439.5 282.5M447.5 276.5L444.5 279.5L447.5 282.5M455.5 276.5L452.5 279.5L455.5 282.5M463.5 276.5L460.5 279.5L463.5 282.5M471.5 276.5L468.5 279.5L471.5 282.5M479.5 276.5L476.5 279.5L479.5 282.5M487.5 276.5L484.5 279.5L487.5 282.5M495.5 276.5L492.5 279.5L495.5 282.5M503.5 276.5L500.5 279.5L503.5 282.5M511.5 276.5L508.5 279.5L511.5 282.5M519.5 276.5L516.5 279.5L519.5 282.5M527.5 276.5L524.5 279.5L527.5 282.5M535.5 276.5L532.5 279.5L535.5 282.5M543.5 276.5L540.5 279.5L543.5 282.5M551.5 276.5L548.5 279.5L551.5 282.5M559.5 276.5L556.5 279.5L559.5 282.5M567.5 276.5L564.5 279.5L567.5 282.5M575.5 276.5L572.5 279.5L575.5 282.5M583.5 276.5L580.5 279.5L583.5 282.5M591.5 276.5L588.5 279.5L591.5 282.5M599.5 276.5L596.5 279.5L599.5 282.5M607.5 276.5L604.5 279.5L607.5 282.5M615.5 276.5L612.5 279.5L615.5 282.5M623.5 276.5L620.5 279.5L623.5 282.5M631.5 276.5L628.5 279.5L631.5 282.5M639.5 276.5L636.5 279.5L639.5 282.5M647.5 276.5L644.5 279.5L647.5 282.5M655.5 276.5L652.5 279.5L655.5 282.5M663.5 276.5L660.5 279.5L663.5 282.5M671.5 276.5L668.5 279.5L671.5 282.5M679.5 276.5L676.5 279.5L679.5 282.5M687.5 276.5L684.5 279.5L687.5 282.5M695.5 276.5L692.5 279.5L695.5 282.5M703.5 276.5L700.5 279.5L703.5 282.5M711.5 276.5L708.5 279.5L711.5 282.5M719.5 276.5L716.5 279.5L719.5 282.5M727.5 276.5L724.5 279.5L727.5 282.5M735.5 276.5L732.5 279.5L735.5 282.5M743.5 276.5L740.5 279.5L743.5 282.5M751.5 276.5L748.5 279.5L751.5 282.5M759.5 276.5L756.5 279.5L759.5 282.5M767.5 276.5L764.5 279.5L767.5 282.5M775.5 276.5L772.5 279.5L775.5 282.5M783.5 276.5L780.5 279.5L783.5 282.5M791.5 276.5L788.5 279.5L791.5 282.5M799.5 276.5L796.5 279.5L799.5 282.5M807.5 276.5L804.5 279.5L807.5 282.5M815.5 276.5L812.5 279.5L815.5 282.5M823.5 276.5L820.5 279.5L823.5 282.5M831.5 276.5L828.5 279.5L831.5 282.5M839.5 276.5L836.5 279.5L839.5 282.5M847.5 276.5L844.5 279.5L847.5 282.5M855.5 276.5L852.5 279.5L855.5 282.5M863.5 276.5L860.5 279.5L863.5 282.5M871.5 276.5L868.5 279.5L871.5 282.5M879.5 276.5L876.5 279.5L879.5 282.5M887.5 276.5L884.5 279.5L887.5 282.5M895.5 276.5L892.5 279.5L895.5 282.5M903.5 276.5L900.5 279.5L903.5 282.5M911.5 276.5L908.5 279.5L911.5 282.5M919.5 276.5L916.5 279.5L919.5 282.5M927.5 276.5L924.5 279.5L927.5 282.5M935.5 276.5L932.5 279.5L935.5 282.5M943.5 276.5L940.5 279.5L943.5 282.5" stroke="#0c0c78" stroke-width="1" fill="none"/><path d="M156 311.5H949M159.5 308.5L156.5 311.5L159.5 314.5M167.5 308.5L164.5 311.5L167.5 314.5M175.5 308.5L172.5 311.5L175.5 314.5M183.5 308.5L180.5 311.5L183.5 314.5M191.5 308.5L188.5 311.5L191.5 314.5M199.5 308.5L196.5 311.5L199.5 314.5M207.5 308.5L204.5 311.5L207.5 314.5M215.5 308.5L212.5 311.5L215.5 314.5M223.5 308.5L220.5 311.5L223.5 314.5M231.5 308.5L228.5 311.5L231.5 314.5M239.5 308.5L236.5 311.5L239.5 314.5M247.5 308.5L244.5 311.5L247.5 314.5M255.5 308.5L252.5 311.5L255.5 314.5M263.5 308.5L260.5 311.5L263.5 314.5M271.5 308.5L268.5 311.5L271.5 314.5M279.5 308.5L276.5 311.5L279.5 314.5M287.5 308.5L284.5 311.5L287.5 314.5M295.5 308.5L292.5 311.5L295.5 314.5M303.5 308.5L300.5 311.5L303.5 314.5M311.5 308.5L308.5 311.5L311.5 314.5M319.5 308.5L316.5 311.5L319.5 314.5M327.5 308.5L324.5 311.5L327.5 314.5M335.5 308.5L332.5 311.5L335.5 314.5M343.5 308.5L340.5 311.5L343.5 314.5M351.5 308.5L348.5 311.5L351.5 314.5M359.5 308.5L356.5 311.5L359.5 314.5M367.5 308.5L364.5 311.5L367.5 314.5M375.5 308.5L372.5 311.5L375.5 314.5M383.5 308.5L380.5 311.5L383.5 314.5M391.5 308.5L388.5 311.5L391.5 314.5M399.5 308.5L396.5 311.5L399.5 314.5M407.5 308.5L404.5 311.5L407.5 314.5M415.5 308.5L412.5 311.5L415.5 314.5M423.5 308.5L420.5 311.5L423.5 314.5M431.5 308.5L428.5 311.5L431.5 314.5M439.5 308.5L436.5 311.5L439.5 314.5M447.5 308.5L444.5 311.5L447.5 314.5M455.5 308.5L452.5 311.5L455.5 314.5M463.5 308.5L460.5 311.5L463.5 314.5M471.5 308.5L468.5 311.5L471.5 314.5M479.5 308.5L476.5 311.5L479.5 314.5M487.5 308.5L484.5 311.5L487.5 314.5M495.5 308.5L492.5 311.5L495.5 314.5M503.5 308.5L500.5 311.5L503.5 314.5M511.5 308.5L508.5 311.5L511.5 314.5M519.5 308.5L516.5 311.5L519.5 314.5M527.5 308.5L524.5 311.5L527.5 314.5M535.5 308.5L532.5 311.5L535.5 314.5M543.5 308.5L540.5 311.5L543.5 314.5M551.5 308.5L548.5 311.5L551.5 314.5M559.5 308.5L556.5 311.5L559.5 314.5M567.5 308.5L564.5 311.5L567.5 314.5M575.5 308.5L572.5 311.5L575.5 314.5M583.5 308.5L580.5 311.5L583.5 314.5M591.5 308.5L588.5 311.5L591.5 314.5M599.5 308.5L596.5 311.5L599.5 314.5M607.5 308.5L604.5 311.5L607.5 314.5M615.5 308.5L612.5 311.5L615.5 314.5M623.5 308.5L620.5 311.5L623.5 314.5M631.5 308.5L628.5 311.5L631.5 314.5M639.5 308.5L636.5 311.5L639.5 314.5M647.5 308.5L644.5 311.5L647.5 314.5M655.5 308.5L652.5 311.5L655.5 314.5M663.5 308.5L660.5 311.5L663.5 314.5M671.5 308.5L668.5 311.5L671.5 314.5M679.5 308.5L676.5 311.5L679.5 314.5M687.5 308.5L684.5 311.5L687.5 314.5M695.5 308.5L692.5 311.5L695.5 314.5M703.5 308.5L700.5 311.5L703.5 314.5M711.5 308.5L708.5 311.5L711.5 314.5M719.5 308.5L716.5 311.5L719.5 314.5M727.5 308.5L724.5 311.5L727.5 314.5M735.5 308.5L732.5 311.5L735.5 314.5M743.5 308.5L740.5 311.5L743.5 314.5M751.5 308.5L748.5 311.5L751.5 314.5M759.5 308.5L756.5 311.5L759.5 314.5M767.5 308.5L764.5 311.5L767.5 314.5M775.5 308.5L772.5 311.5L775.5 314.5M783.5 308.5L780.5 311.5L783.5 314.5M791.5 308.5L788.5 311.5L791.5 314.5M799.5 308.5L796.5 311.5L799.5 314.5M807.5 308.5L804.5 311.5L807.5 314.5M815.5 308.5L812.5 311.5L815.5 314.5M823.5 308.5L820.5 311.5L823.5 314.5M831.5 308.5L828.5 311.5L831.5 314.5M839.5 308.5L836.5 311.5L839.5 314.5M847.5 308.5L844.5 311.5L847.5 314.5M855.5 308.5L852.5 311.5L855.5 314.5M863.5 308.5L860.5 311.5L863.5 314.5M871.5 308.5L868.5 311.5L871.5 314.5M879.5 308.5L876.5 311.5L879.5 314.5M887.5 308.5L884.5 311.5L887.5 314.5M895.5 308.5L892.5 311.5L895.5 314.5M903.5 308.5L900.5 311.5L903.5 314.5M911.5 308.5L908.5 311.5L911.5 314.5M919.5 308.5L916.5 311.5L919.5 314.5M927.5 308.5L924.5 311.5L927.5 314.5M935.5 308.5L932.5 311.5L935.5 314.5M943.5 308.5L940.5 311.5L943.5 314.5" stroke="#0c0c78" stroke-width="1" fill="none"/></svg>
<div class="t c s" style="top:321px;">RefSeq genes from NCBI</div>
<div class="t r" style="top:335px;color:#1e1e8c;letter-spacing:-0.08px;">RefSeq Curated</div>
<div class="b" style="left:157px;top:342px;width:792px;height:1px;background:#0c0c78"></div>
<div class="t c s" style="top:352px;letter-spacing:-0.033px;margin-left:-0.5px;">Publications: Sequences in Scientific Articles</div>
<div class="t r" style="top:366px;">Sequences</div>
<div class="t r" style="top:382px;">SNPs</div>
<div class="t c" style="top:399px;color:#006400;">OMIM Gene Phenotypes - Dark Green Can Be Disease-causing</div>
<div class="t r" style="top:413px;color:#006400;">OMIM Genes</div>
<div class="b" style="left:156px;top:413px;width:793px;height:15px;background:#bebebe"></div>
<div class="t c s" style="top:430px;margin-left:-1px;">Short Genetic Variants from dbSNP release 155</div>
<div class="t r" style="top:444px;letter-spacing:-0.12px;">Common dbSNP(155)</div>
<div class="t c" style="top:461px;letter-spacing:0.073px;">Gene Expression in 54 tissues from GTEx RNA-seq of 17382 samples, 948 donors (V8, Aug 2019)</div>
<div class="t r u" style="top:508px;">ERRFI1</div>
<div class="b" style="left:156px;top:476px;width:378px;height:74px;background:#fff;border:1px solid #f0f0f0;box-sizing:border-box"></div>
<div class="b" style="left:156px;top:484px;width:5px;height:65px;background:#ffa54f"></div>
<div class="b" style="left:163px;top:486px;width:5px;height:63px;background:#ee9a00"></div>
<div class="b" style="left:170px;top:509px;width:5px;height:40px;background:#8fbc8f"></div>
<div class="b" style="left:177px;top:481px;width:5px;height:68px;background:#8b1c62"></div>
<div class="b" style="left:184px;top:485px;width:5px;height:64px;background:#ee6a50"></div>
<div class="b" style="left:191px;top:476px;width:5px;height:73px;background:#ff0000"></div>
<div class="b" style="left:198px;top:490px;width:5px;height:59px;background:#cdb79e"></div>
<div class="b" style="left:205px;top:521px;width:5px;height:28px;background:#eeee00"></div>
<div class="b" style="left:212px;top:516px;width:5px;height:33px;background:#eeee00"></div>
<div class="b" style="left:219px;top:519px;width:5px;height:30px;background:#eeee00"></div>
<div class="b" style="left:226px;top:503px;width:5px;height:46px;background:#eeee00"></div>
<div class="b" style="left:233px;top:503px;width:5px;height:46px;background:#eeee00"></div>
<div class="b" style="left:240px;top:514px;width:5px;height:35px;background:#eeee00"></div>
<div class="b" style="left:247px;top:512px;width:5px;height:37px;background:#eeee00"></div>
<div class="b" style="left:254px;top:520px;width:5px;height:29px;background:#eeee00"></div>
<div class="b" style="left:261px;top:517px;width:5px;height:32px;background:#eeee00"></div>
<div class="b" style="left:268px;top:517px;width:5px;height:32px;background:#eeee00"></div>
<div class="b" style="left:275px;top:520px;width:5px;height:29px;background:#eeee00"></div>
<div class="b" style="left:282px;top:509px;width:5px;height:40px;background:#eeee00"></div>
<div class="b" style="left:289px;top:519px;width:5px;height:30px;background:#eeee00"></div>
<div class="b" style="left:296px;top:485px;width:5px;height:64px;background:#00cdcd"></div>
<div class="b" style="left:303px;top:539px;width:5px;height:10px;background:#ee82ee"></div>
<div class="b" style="left:310px;top:492px;width:5px;height:57px;background:#9ac0cd"></div>
<div class="b" style="left:317px;top:490px;width:5px;height:59px;background:#eed5d2"></div>
<div class="b" style="left:324px;top:492px;width:5px;height:57px;background:#eed5d2"></div>
<div class="b" style="left:331px;top:494px;width:5px;height:55px;background:#cdb79e"></div>
<div class="b" style="left:338px;top:502px;width:5px;height:47px;background:#eec591"></div>
<div class="b" style="left:345px;top:479px;width:5px;height:70px;background:#8b7355"></div>
<div class="b" style="left:352px;top:503px;width:5px;height:46px;background:#8b7355"></div>
<div class="b" style="left:359px;top:476px;width:5px;height:73px;background:#cdaa7d"></div>
<div class="b" style="left:366px;top:486px;width:5px;height:63px;background:#eed5d2"></div>
<div class="b" style="left:373px;top:509px;width:5px;height:40px;background:#b452cd"></div>
<div class="b" style="left:380px;top:524px;width:5px;height:25px;background:#7a378b"></div>
<div class="b" style="left:387px;top:502px;width:5px;height:47px;background:#cdb79e"></div>
<div class="b" style="left:394px;top:510px;width:5px;height:39px;background:#cdb79e"></div>
<div class="b" style="left:401px;top:480px;width:5px;height:69px;background:#cdb79e"></div>
<div class="b" style="left:408px;top:490px;width:5px;height:59px;background:#9acd32"></div>
<div class="b" style="left:415px;top:493px;width:5px;height:56px;background:#cdb79e"></div>
<div class="b" style="left:422px;top:496px;width:5px;height:53px;background:#7a67ee"></div>
<div class="b" style="left:429px;top:492px;width:5px;height:57px;background:#ffd700"></div>
<div class="b" style="left:436px;top:481px;width:5px;height:68px;background:#ffaeb9"></div>
<div class="b" style="left:443px;top:484px;width:5px;height:65px;background:#cd9b1d"></div>
<div class="b" style="left:450px;top:487px;width:5px;height:62px;background:#b4eeb4"></div>
<div class="b" style="left:457px;top:495px;width:5px;height:54px;background:#d9d9d9"></div>
<div class="b" style="left:464px;top:487px;width:5px;height:62px;background:#3a5fcd"></div>
<div class="b" style="left:471px;top:487px;width:5px;height:62px;background:#1e90ff"></div>
<div class="b" style="left:478px;top:501px;width:5px;height:48px;background:#cdb79e"></div>
<div class="b" style="left:485px;top:521px;width:5px;height:28px;background:#cdb79e"></div>
<div class="b" style="left:492px;top:495px;width:5px;height:54px;background:#ffd39b"></div>
<div class="b" style="left:499px;top:507px;width:5px;height:42px;background:#a6a6a6"></div>
<div class="b" style="left:506px;top:489px;width:5px;height:60px;background:#008b45"></div>
<div class="b" style="left:513px;top:494px;width:5px;height:55px;background:#eed5d2"></div>
<div class="b" style="left:520px;top:492px;width:5px;height:57px;background:#eed5d2"></div>
<div class="b" style="left:527px;top:542px;width:5px;height:7px;background:#ff00ff"></div>
<div class="b" style="left:156px;top:550px;width:793px;height:2px;background:#00006e"></div>
<div class="t c" style="top:555px;letter-spacing:0.044px;margin-left:-1.5px;">H3K27Ac Mark (Often Found Near Active Regulatory Elements) on 7 cell lines from ENCODE</div>
<div class="t " style="top:569px;left:13px;">Layered H3K27Ac</div>
<div class="b" style="left:156px;top:596px;width:793px;height:1px;background:#e08cff"></div>
<div class="b" style="left:156px;top:597px;width:793px;height:1px;background:#2c2cac"></div>
<div class="b" style="left:156px;top:598px;width:793px;height:1px;background:#0a0032"></div>
<div class="t c" style="top:601px;color:#3c3c96;letter-spacing:0.036px;margin-left:-1px;">100 vertebrates Basewise Conservation by PhyloP</div>
<div class="t " style="top:600px;color:#46469c;right:809px;">4.88</div>
<div class="b" style="left:145px;top:613px;width:8px;height:1px;background:#6a6ab0"></div>
<div class="t " style="top:625px;color:#3c3c96;left:13px;">100 Vert. Cons</div>
<div class="t " style="top:650px;color:#963c3c;right:809px;">-4.5</div>
<div class="b" style="left:145px;top:663px;width:8px;height:1px;background:#b06a6a"></div>
<svg width="950" height="862" viewBox="0 0 950 862"><path d="M1167 0 1006 412H364L202 0H4L579 1409H796L1362 0ZM685 1265 676 1237Q651 1154 602 1024L422 561H949L768 1026Q740 1095 712 1182Z" transform="matrix(0.02636 0 0 -0.00355 157.29 640.00)" fill="#ff0000"/><path d="M1167 0 1006 412H364L202 0H4L579 1409H796L1362 0ZM685 1265 676 1237Q651 1154 602 1024L422 561H949L768 1026Q740 1095 712 1182Z" transform="matrix(0.02599 0 0 -0.00128 251.70 642.80)" fill="#ff0000"/><path d="M792 1274Q558 1274 428 1123.5Q298 973 298 711Q298 452 433.5 294.5Q569 137 800 137Q1096 137 1245 430L1401 352Q1314 170 1156.5 75Q999 -20 791 -20Q578 -20 422.5 68.5Q267 157 185.5 321.5Q104 486 104 711Q104 1048 286 1239Q468 1430 790 1430Q1015 1430 1166 1342Q1317 1254 1388 1081L1207 1021Q1158 1144 1049.5 1209Q941 1274 792 1274Z" transform="matrix(0.02722 0 0 -0.00138 296.37 642.97)" fill="#a0a010"/><path d="M720 1253V0H530V1253H46V1409H1204V1253Z" transform="matrix(0.02902 0 0 -0.00142 342.67 643.00)" fill="#00ff00"/><path d="M720 1253V0H530V1253H46V1409H1204V1253Z" transform="matrix(0.02910 0 0 -0.00355 435.46 640.00)" fill="#00ff00"/><path d="M792 1274Q558 1274 428 1123.5Q298 973 298 711Q298 452 433.5 294.5Q569 137 800 137Q1096 137 1245 430L1401 352Q1314 170 1156.5 75Q999 -20 791 -20Q578 -20 422.5 68.5Q267 157 185.5 321.5Q104 486 104 711Q104 1048 286 1239Q468 1430 790 1430Q1015 1430 1166 1342Q1317 1254 1388 1081L1207 1021Q1158 1144 1049.5 1209Q941 1274 792 1274Z" transform="matrix(0.02737 0 0 -0.00207 530.05 643.96)" fill="#a0a010"/><path d="M1167 0 1006 412H364L202 0H4L579 1409H796L1362 0ZM685 1265 676 1237Q651 1154 602 1024L422 561H949L768 1026Q740 1095 712 1182Z" transform="matrix(0.02599 0 0 -0.00227 577.50 640.00)" fill="#ff0000"/><path d="M1167 0 1006 412H364L202 0H4L579 1409H796L1362 0ZM685 1265 676 1237Q651 1154 602 1024L422 561H949L768 1026Q740 1095 712 1182Z" transform="matrix(0.02673 0 0 -0.00497 624.09 640.00)" fill="#ff0000"/><path d="M720 1253V0H530V1253H46V1409H1204V1253Z" transform="matrix(0.02876 0 0 -0.00142 715.88 640.00)" fill="#00ff00"/><path d="M103 711Q103 1054 287 1242Q471 1430 804 1430Q1038 1430 1184 1351Q1330 1272 1409 1098L1227 1044Q1167 1164 1061.5 1219Q956 1274 799 1274Q555 1274 426 1126.5Q297 979 297 711Q297 444 434 289.5Q571 135 813 135Q951 135 1070.5 177Q1190 219 1264 291V545H843V705H1440V219Q1328 105 1165.5 42.5Q1003 -20 813 -20Q592 -20 432 68Q272 156 187.5 321.5Q103 487 103 711Z" transform="matrix(0.02820 0 0 -0.00069 763.40 641.99)" fill="#2828ff"/></svg>
<div class="t c" style="top:667px;color:#000064;letter-spacing:0.14px;">Multiz Alignments of 100 Vertebrates</div>
<div class="t r" style="top:681px;color:#e6961e;">Gaps</div>
<div class="t r" style="top:696px;color:#14146e;">Human</div>
<div class="l u" style="left:177.5px;top:696px;color:#000064">A</div>
<div class="l u" style="left:224.2px;top:696px;color:#000064">T</div>
<div class="l u" style="left:270.8px;top:696px;color:#000064">A</div>
<div class="l u" style="left:317.5px;top:696px;color:#000064">C</div>
<div class="l u" style="left:364.1px;top:696px;color:#000064">T</div>
<div class="l u" style="left:410.8px;top:696px;color:#000064">C</div>
<div class="l u" style="left:457.4px;top:696px;color:#000064">T</div>
<div class="l u" style="left:504.1px;top:696px;color:#000064">G</div>
<div class="l u" style="left:550.7px;top:696px;color:#000064">C</div>
<div class="l u" style="left:597.3px;top:696px;color:#000064">A</div>
<div class="l u" style="left:644.0px;top:696px;color:#000064">A</div>
<div class="l u" style="left:690.6px;top:696px;color:#000064">G</div>
<div class="l u" style="left:737.3px;top:696px;color:#000064">T</div>
<div class="l u" style="left:783.9px;top:696px;color:#000064">G</div>
<div class="l u" style="left:830.6px;top:696px;color:#000064">T</div>
<div class="l u" style="left:877.2px;top:696px;color:#000064">T</div>
<div class="l u" style="left:923.9px;top:696px;color:#000064">T</div>
<div class="t r" style="top:711px;color:#14146e;">Rhesus</div>
<div class="l u" style="left:177.5px;top:711px;color:#000064">A</div>
<div class="l u" style="left:224.2px;top:711px;color:#000064">T</div>
<div class="l u" style="left:270.8px;top:711px;color:#000064">A</div>
<div class="l u" style="left:317.5px;top:711px;color:#000064">C</div>
<div class="l u" style="left:364.1px;top:711px;color:#000064">T</div>
<div class="l u" style="left:410.8px;top:711px;color:#000064">C</div>
<div class="l u" style="left:457.4px;top:711px;color:#000064">T</div>
<div class="l u" style="left:504.1px;top:711px;color:#000064">G</div>
<div class="l u" style="left:550.7px;top:711px;color:#000064">C</div>
<div class="l u" style="left:597.3px;top:711px;color:#000064">A</div>
<div class="l u" style="left:644.0px;top:711px;color:#000064">A</div>
<div class="l u" style="left:690.6px;top:711px;color:#000064">G</div>
<div class="l u" style="left:737.3px;top:711px;color:#000064">T</div>
<div class="l u" style="left:783.9px;top:711px;color:#8c8cbc">A</div>
<div class="l u" style="left:830.6px;top:711px;color:#000064">T</div>
<div class="l u" style="left:877.2px;top:711px;color:#8c8cbc">C</div>
<div class="l u" style="left:923.9px;top:711px;color:#8c8cbc">C</div>
<div class="t r" style="top:726px;color:#006400;">Mouse</div>
<div class="l u" style="left:177.5px;top:726px;color:#000064">A</div>
<div class="l u" style="left:224.2px;top:726px;color:#000064">T</div>
<div class="l u" style="left:270.8px;top:726px;color:#000064">A</div>
<div class="l u" style="left:317.5px;top:726px;color:#000064">C</div>
<div class="l u" style="left:364.1px;top:726px;color:#8c8cbc">C</div>
<div class="l u" style="left:410.8px;top:726px;color:#000064">C</div>
<div class="l u" style="left:457.4px;top:726px;color:#8c8cbc">C</div>
<div class="l u" style="left:504.1px;top:726px;color:#8c8cbc">A</div>
<div class="l u" style="left:550.7px;top:726px;color:#8c8cbc">T</div>
<div class="l u" style="left:597.3px;top:726px;color:#000064">A</div>
<div class="l u" style="left:644.0px;top:726px;color:#8c8cbc">G</div>
<div class="l u" style="left:690.6px;top:726px;color:#8c8cbc">A</div>
<div class="l u" style="left:737.3px;top:726px;color:#000064">T</div>
<div class="l u" style="left:783.9px;top:726px;color:#000064">G</div>
<div class="l u" style="left:830.6px;top:726px;color:#000064">T</div>
<div class="l u" style="left:877.2px;top:726px;color:#000064">T</div>
<div class="l u" style="left:923.9px;top:726px;color:#000064">T</div>
<div class="t r" style="top:741px;color:#14146e;">Dog</div>
<div class="l u" style="left:177.5px;top:741px;color:#000064">A</div>
<div class="l u" style="left:224.2px;top:741px;color:#000064">T</div>
<div class="l u" style="left:270.8px;top:741px;color:#000064">A</div>
<div class="l u" style="left:317.5px;top:741px;color:#000064">C</div>
<div class="l u" style="left:364.1px;top:741px;color:#000064">T</div>
<div class="l u" style="left:410.8px;top:741px;color:#000064">C</div>
<div class="l u" style="left:457.4px;top:741px;color:#000064">T</div>
<div class="l u" style="left:504.1px;top:741px;color:#000064">G</div>
<div class="l u" style="left:550.7px;top:741px;color:#000064">C</div>
<div class="l u" style="left:597.3px;top:741px;color:#000064">A</div>
<div class="l u" style="left:644.0px;top:741px;color:#000064">A</div>
<div class="l u" style="left:690.6px;top:741px;color:#000064">G</div>
<div class="l u" style="left:737.3px;top:741px;color:#000064">T</div>
<div class="l u" style="left:783.9px;top:741px;color:#000064">G</div>
<div class="l u" style="left:830.6px;top:741px;color:#8c8cbc">C</div>
<div class="l u" style="left:877.2px;top:741px;color:#000064">T</div>
<div class="l" style="left:923.9px;top:741px;color:#8c8cbc">-</div>
<div class="t r" style="top:756px;color:#006400;">Elephant</div>
<div class="l" style="left:176.8px;top:757px;color:#7878b4">=</div>
<div class="l" style="left:223.5px;top:757px;color:#7878b4">=</div>
<div class="l" style="left:270.1px;top:757px;color:#7878b4">=</div>
<div class="l" style="left:316.8px;top:757px;color:#7878b4">=</div>
<div class="l" style="left:363.4px;top:757px;color:#7878b4">=</div>
<div class="l" style="left:410.1px;top:757px;color:#7878b4">=</div>
<div class="l" style="left:456.7px;top:757px;color:#7878b4">=</div>
<div class="l" style="left:503.4px;top:757px;color:#7878b4">=</div>
<div class="l" style="left:550.0px;top:757px;color:#7878b4">=</div>
<div class="l" style="left:596.6px;top:757px;color:#7878b4">=</div>
<div class="l" style="left:643.3px;top:757px;color:#7878b4">=</div>
<div class="l" style="left:689.9px;top:757px;color:#7878b4">=</div>
<div class="l" style="left:736.6px;top:757px;color:#7878b4">=</div>
<div class="l" style="left:783.2px;top:757px;color:#7878b4">=</div>
<div class="l" style="left:829.9px;top:757px;color:#7878b4">=</div>
<div class="l" style="left:876.5px;top:757px;color:#7878b4">=</div>
<div class="l" style="left:923.2px;top:757px;color:#7878b4">=</div>
<div class="t r" style="top:771px;color:#006400;">Chicken</div>
<div class="l" style="left:176.8px;top:772px;color:#7878b4">=</div>
<div class="l" style="left:223.5px;top:772px;color:#7878b4">=</div>
<div class="l" style="left:270.1px;top:772px;color:#7878b4">=</div>
<div class="l" style="left:316.8px;top:772px;color:#7878b4">=</div>
<div class="l" style="left:363.4px;top:772px;color:#7878b4">=</div>
<div class="l" style="left:410.1px;top:772px;color:#7878b4">=</div>
<div class="l" style="left:456.7px;top:772px;color:#7878b4">=</div>
<div class="l" style="left:503.4px;top:772px;color:#7878b4">=</div>
<div class="l" style="left:550.0px;top:772px;color:#7878b4">=</div>
<div class="l" style="left:596.6px;top:772px;color:#7878b4">=</div>
<div class="l" style="left:643.3px;top:772px;color:#7878b4">=</div>
<div class="l" style="left:689.9px;top:772px;color:#7878b4">=</div>
<div class="l" style="left:736.6px;top:772px;color:#7878b4">=</div>
<div class="l" style="left:783.2px;top:772px;color:#7878b4">=</div>
<div class="l" style="left:829.9px;top:772px;color:#7878b4">=</div>
<div class="l" style="left:876.5px;top:772px;color:#7878b4">=</div>
<div class="l" style="left:923.2px;top:772px;color:#7878b4">=</div>
<div class="t r" style="top:786px;color:#14146e;">X_tropicalis</div>
<div class="l" style="left:176.8px;top:787px;color:#7878b4">=</div>
<div class="l" style="left:223.5px;top:787px;color:#7878b4">=</div>
<div class="l" style="left:270.1px;top:787px;color:#7878b4">=</div>
<div class="l" style="left:316.8px;top:787px;color:#7878b4">=</div>
<div class="l" style="left:363.4px;top:787px;color:#7878b4">=</div>
<div class="l" style="left:410.1px;top:787px;color:#7878b4">=</div>
<div class="l" style="left:456.7px;top:787px;color:#7878b4">=</div>
<div class="l" style="left:503.4px;top:787px;color:#7878b4">=</div>
<div class="l" style="left:550.0px;top:787px;color:#7878b4">=</div>
<div class="l" style="left:596.6px;top:787px;color:#7878b4">=</div>
<div class="l" style="left:643.3px;top:787px;color:#7878b4">=</div>
<div class="l" style="left:689.9px;top:787px;color:#7878b4">=</div>
<div class="l" style="left:736.6px;top:787px;color:#7878b4">=</div>
<div class="l" style="left:783.2px;top:787px;color:#7878b4">=</div>
<div class="l" style="left:829.9px;top:787px;color:#7878b4">=</div>
<div class="l" style="left:876.5px;top:787px;color:#7878b4">=</div>
<div class="l" style="left:923.2px;top:787px;color:#7878b4">=</div>
<div class="t r" style="top:801px;color:#006400;">Zebrafish</div>
<div class="t c" style="top:817px;">Repeating Elements by RepeatMasker</div>
<div class="t r" style="top:831px;">RepeatMasker</div>
</div></body></html>
